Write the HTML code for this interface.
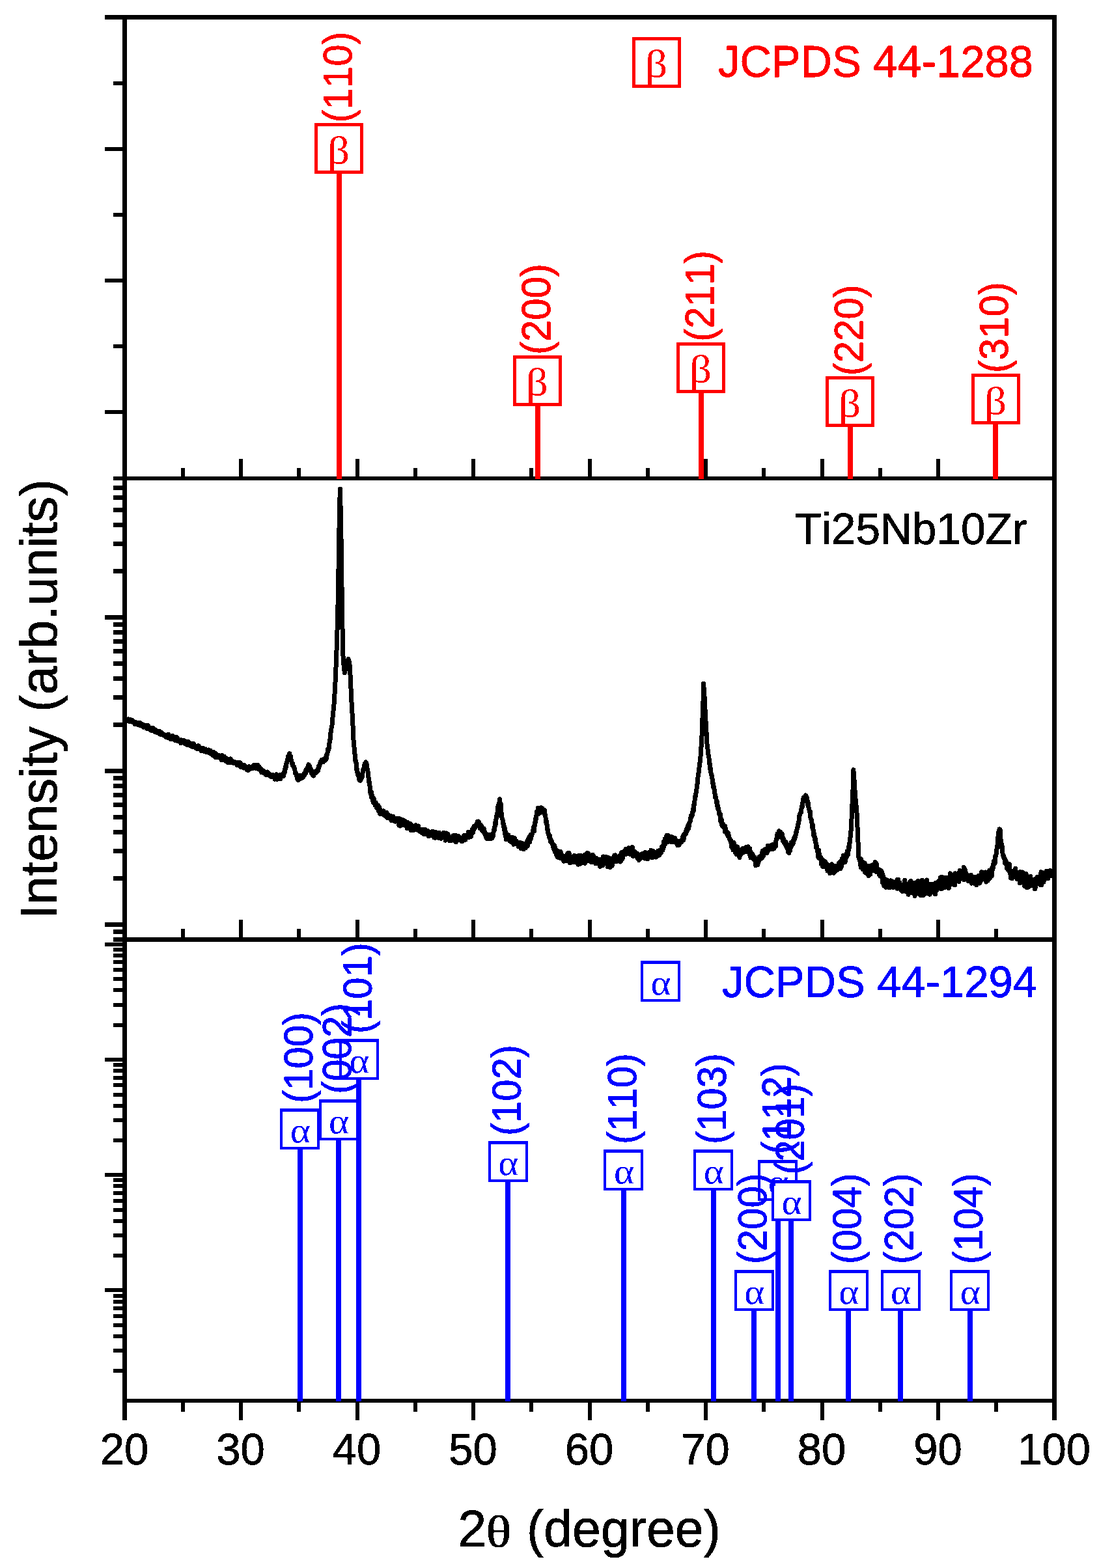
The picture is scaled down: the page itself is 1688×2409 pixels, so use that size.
<!DOCTYPE html>
<html lang="en">
<head>
<meta charset="utf-8">
<title>XRD pattern Ti25Nb10Zr</title>
<style>html,body{margin:0;padding:0;background:#fff}body{width:1688px;height:2409px;overflow:hidden}svg text{font-kerning:none;filter:url(#px)}</style>
</head>
<body>
<svg width="1688" height="2409" viewBox="0 0 1688 2409" style="display:block;font-kerning:none">
<defs><filter id="px" x="-5%" y="-5%" width="110%" height="110%" color-interpolation-filters="sRGB"><feComponentTransfer><feFuncA type="discrete" tableValues="0 1"/></feComponentTransfer></filter></defs>
<rect width="1688" height="2409" fill="#fff"/>
<g id="axes" shape-rendering="crispEdges">
<rect x="161" y="23" width="1462" height="7" fill="#000"/>
<rect x="174" y="732" width="1449" height="6" fill="#000"/>
<rect x="174" y="1440" width="1449" height="7" fill="#000"/>
<rect x="188" y="2149" width="1435" height="6" fill="#000"/>
<rect x="188" y="23" width="7" height="2159" fill="#000"/>
<rect x="1616" y="23" width="7" height="2159" fill="#000"/>
<rect x="174" y="125" width="15" height="6" fill="#000"/>
<rect x="161" y="226" width="28" height="6" fill="#000"/>
<rect x="174" y="327" width="15" height="6" fill="#000"/>
<rect x="161" y="428" width="28" height="6" fill="#000"/>
<rect x="174" y="529" width="15" height="6" fill="#000"/>
<rect x="161" y="630" width="28" height="6" fill="#000"/>
<rect x="161" y="945" width="28" height="7" fill="#000"/>
<rect x="161" y="1181" width="28" height="7" fill="#000"/>
<rect x="161" y="1417" width="28" height="7" fill="#000"/>
<rect x="174" y="874" width="15" height="7" fill="#000"/>
<rect x="174" y="832" width="15" height="7" fill="#000"/>
<rect x="174" y="803" width="15" height="7" fill="#000"/>
<rect x="174" y="780" width="15" height="7" fill="#000"/>
<rect x="174" y="761" width="15" height="7" fill="#000"/>
<rect x="174" y="746" width="15" height="7" fill="#000"/>
<rect x="174" y="1110" width="15" height="7" fill="#000"/>
<rect x="174" y="1068" width="15" height="7" fill="#000"/>
<rect x="174" y="1039" width="15" height="7" fill="#000"/>
<rect x="174" y="1016" width="15" height="7" fill="#000"/>
<rect x="174" y="997" width="15" height="7" fill="#000"/>
<rect x="174" y="982" width="15" height="7" fill="#000"/>
<rect x="174" y="968" width="15" height="7" fill="#000"/>
<rect x="174" y="956" width="15" height="7" fill="#000"/>
<rect x="174" y="1346" width="15" height="7" fill="#000"/>
<rect x="174" y="1304" width="15" height="7" fill="#000"/>
<rect x="174" y="1275" width="15" height="7" fill="#000"/>
<rect x="174" y="1252" width="15" height="7" fill="#000"/>
<rect x="174" y="1233" width="15" height="7" fill="#000"/>
<rect x="174" y="1218" width="15" height="7" fill="#000"/>
<rect x="174" y="1204" width="15" height="7" fill="#000"/>
<rect x="174" y="1192" width="15" height="7" fill="#000"/>
<rect x="174" y="1428" width="15" height="7" fill="#000"/>
<rect x="161" y="1448" width="28" height="6" fill="#000"/>
<rect x="174" y="1572" width="15" height="6" fill="#000"/>
<rect x="174" y="1541" width="15" height="6" fill="#000"/>
<rect x="174" y="1518" width="15" height="6" fill="#000"/>
<rect x="174" y="1501" width="15" height="6" fill="#000"/>
<rect x="174" y="1487" width="15" height="6" fill="#000"/>
<rect x="174" y="1475" width="15" height="6" fill="#000"/>
<rect x="174" y="1465" width="15" height="6" fill="#000"/>
<rect x="174" y="1456" width="15" height="6" fill="#000"/>
<rect x="161" y="1625" width="28" height="6" fill="#000"/>
<rect x="174" y="1749" width="15" height="6" fill="#000"/>
<rect x="174" y="1718" width="15" height="6" fill="#000"/>
<rect x="174" y="1696" width="15" height="6" fill="#000"/>
<rect x="174" y="1679" width="15" height="6" fill="#000"/>
<rect x="174" y="1664" width="15" height="6" fill="#000"/>
<rect x="174" y="1653" width="15" height="6" fill="#000"/>
<rect x="174" y="1642" width="15" height="6" fill="#000"/>
<rect x="174" y="1633" width="15" height="6" fill="#000"/>
<rect x="161" y="1802" width="28" height="6" fill="#000"/>
<rect x="174" y="1926" width="15" height="6" fill="#000"/>
<rect x="174" y="1895" width="15" height="6" fill="#000"/>
<rect x="174" y="1873" width="15" height="6" fill="#000"/>
<rect x="174" y="1856" width="15" height="6" fill="#000"/>
<rect x="174" y="1842" width="15" height="6" fill="#000"/>
<rect x="174" y="1830" width="15" height="6" fill="#000"/>
<rect x="174" y="1819" width="15" height="6" fill="#000"/>
<rect x="174" y="1810" width="15" height="6" fill="#000"/>
<rect x="161" y="1979" width="28" height="6" fill="#000"/>
<rect x="174" y="2103" width="15" height="6" fill="#000"/>
<rect x="174" y="2072" width="15" height="6" fill="#000"/>
<rect x="174" y="2050" width="15" height="6" fill="#000"/>
<rect x="174" y="2033" width="15" height="6" fill="#000"/>
<rect x="174" y="2019" width="15" height="6" fill="#000"/>
<rect x="174" y="2007" width="15" height="6" fill="#000"/>
<rect x="174" y="1997" width="15" height="6" fill="#000"/>
<rect x="174" y="1988" width="15" height="6" fill="#000"/>
<rect x="277.762" y="719" width="6" height="14" fill="#000"/>
<rect x="277.762" y="1427" width="6" height="14" fill="#000"/>
<rect x="277.762" y="2154" width="6" height="14.5" fill="#000"/>
<rect x="367.025" y="705" width="6" height="28" fill="#000"/>
<rect x="367.025" y="1413" width="6" height="28" fill="#000"/>
<rect x="367.025" y="2154" width="6" height="28" fill="#000"/>
<rect x="456.288" y="719" width="6" height="14" fill="#000"/>
<rect x="456.288" y="1427" width="6" height="14" fill="#000"/>
<rect x="456.288" y="2154" width="6" height="14.5" fill="#000"/>
<rect x="545.55" y="705" width="6" height="28" fill="#000"/>
<rect x="545.55" y="1413" width="6" height="28" fill="#000"/>
<rect x="545.55" y="2154" width="6" height="28" fill="#000"/>
<rect x="634.812" y="719" width="6" height="14" fill="#000"/>
<rect x="634.812" y="1427" width="6" height="14" fill="#000"/>
<rect x="634.812" y="2154" width="6" height="14.5" fill="#000"/>
<rect x="724.075" y="705" width="6" height="28" fill="#000"/>
<rect x="724.075" y="1413" width="6" height="28" fill="#000"/>
<rect x="724.075" y="2154" width="6" height="28" fill="#000"/>
<rect x="813.337" y="719" width="6" height="14" fill="#000"/>
<rect x="813.337" y="1427" width="6" height="14" fill="#000"/>
<rect x="813.337" y="2154" width="6" height="14.5" fill="#000"/>
<rect x="902.6" y="705" width="6" height="28" fill="#000"/>
<rect x="902.6" y="1413" width="6" height="28" fill="#000"/>
<rect x="902.6" y="2154" width="6" height="28" fill="#000"/>
<rect x="991.862" y="719" width="6" height="14" fill="#000"/>
<rect x="991.862" y="1427" width="6" height="14" fill="#000"/>
<rect x="991.862" y="2154" width="6" height="14.5" fill="#000"/>
<rect x="1081.12" y="705" width="6" height="28" fill="#000"/>
<rect x="1081.12" y="1413" width="6" height="28" fill="#000"/>
<rect x="1081.12" y="2154" width="6" height="28" fill="#000"/>
<rect x="1170.39" y="719" width="6" height="14" fill="#000"/>
<rect x="1170.39" y="1427" width="6" height="14" fill="#000"/>
<rect x="1170.39" y="2154" width="6" height="14.5" fill="#000"/>
<rect x="1259.65" y="705" width="6" height="28" fill="#000"/>
<rect x="1259.65" y="1413" width="6" height="28" fill="#000"/>
<rect x="1259.65" y="2154" width="6" height="28" fill="#000"/>
<rect x="1348.91" y="719" width="6" height="14" fill="#000"/>
<rect x="1348.91" y="1427" width="6" height="14" fill="#000"/>
<rect x="1348.91" y="2154" width="6" height="14.5" fill="#000"/>
<rect x="1438.17" y="705" width="6" height="28" fill="#000"/>
<rect x="1438.17" y="1413" width="6" height="28" fill="#000"/>
<rect x="1438.17" y="2154" width="6" height="28" fill="#000"/>
<rect x="1527.44" y="719" width="6" height="14" fill="#000"/>
<rect x="1527.44" y="1427" width="6" height="14" fill="#000"/>
<rect x="1527.44" y="2154" width="6" height="14.5" fill="#000"/>
</g>
<g font-family="'Liberation Sans', Arial, Helvetica, sans-serif" font-size="67" fill="#000" stroke="#000" stroke-width="0.8" text-anchor="middle">
<text transform="translate(190.9,2250.4) scale(1,1.02)">20</text>
<text transform="translate(369.4,2250.4) scale(1,1.02)">30</text>
<text transform="translate(547.9,2250.4) scale(1,1.02)">40</text>
<text transform="translate(726.5,2250.4) scale(1,1.02)">50</text>
<text transform="translate(905.0,2250.4) scale(1,1.02)">60</text>
<text transform="translate(1083.5,2250.4) scale(1,1.02)">70</text>
<text transform="translate(1262.1,2250.4) scale(1,1.02)">80</text>
<text transform="translate(1440.6,2250.4) scale(1,1.02)">90</text>
<text transform="translate(1619.1,2250.4) scale(1,1.02)">100</text>
</g>
<text transform="translate(87,1412.3) rotate(-90) scale(1,1.0)" font-family="'Liberation Sans', Arial, Helvetica, sans-serif" font-size="79.5" fill="#000" stroke="#000" stroke-width="0.8">Intensity (arb.units)</text>
<text transform="translate(703.2,2376) scale(1,1.0)" font-family="'Liberation Sans', Arial, Helvetica, sans-serif" font-size="79" fill="#000" stroke="#000" stroke-width="0.8">2</text>
<text transform="translate(746.6,2376) scale(1.2,1)" font-family="'Liberation Serif', 'Times New Roman', serif" font-size="67.6" fill="#000" stroke="#000" stroke-width="1">θ</text>
<text transform="translate(809,2376) scale(1,1.0)" font-family="'Liberation Sans', Arial, Helvetica, sans-serif" font-size="78.8" fill="#000" stroke="#000" stroke-width="0.8">(degree)</text>
<g id="beta">
<rect x="517" y="228" width="8" height="508" fill="#ff0000" shape-rendering="crispEdges"/>
<rect x="822" y="585" width="8" height="151" fill="#ff0000" shape-rendering="crispEdges"/>
<rect x="1073" y="565" width="8" height="171" fill="#ff0000" shape-rendering="crispEdges"/>
<rect x="1302" y="617" width="8" height="119" fill="#ff0000" shape-rendering="crispEdges"/>
<rect x="1525" y="613" width="8" height="123" fill="#ff0000" shape-rendering="crispEdges"/>
<rect x="483" y="189" width="75" height="78" fill="#ff0000" shape-rendering="crispEdges"/><rect x="488" y="194" width="65" height="68" fill="#fff" shape-rendering="crispEdges"/>
<text transform="translate(520.2,250.7) scale(1.14,1)" font-family="'Liberation Serif', 'Times New Roman', serif" font-size="59" fill="#ff0000" text-anchor="middle">β</text>
<rect x="788" y="546" width="75" height="78" fill="#ff0000" shape-rendering="crispEdges"/><rect x="793" y="551" width="65" height="68" fill="#fff" shape-rendering="crispEdges"/>
<text transform="translate(824.8,607.2) scale(1.14,1)" font-family="'Liberation Serif', 'Times New Roman', serif" font-size="59" fill="#ff0000" text-anchor="middle">β</text>
<rect x="1039" y="526" width="75" height="78" fill="#ff0000" shape-rendering="crispEdges"/><rect x="1044" y="531" width="65" height="68" fill="#fff" shape-rendering="crispEdges"/>
<text transform="translate(1076.0,586.9) scale(1.14,1)" font-family="'Liberation Serif', 'Times New Roman', serif" font-size="59" fill="#ff0000" text-anchor="middle">β</text>
<rect x="1268" y="578" width="75" height="78" fill="#ff0000" shape-rendering="crispEdges"/><rect x="1273" y="583" width="65" height="68" fill="#fff" shape-rendering="crispEdges"/>
<text transform="translate(1305.2,639.6) scale(1.14,1)" font-family="'Liberation Serif', 'Times New Roman', serif" font-size="59" fill="#ff0000" text-anchor="middle">β</text>
<rect x="1492" y="574" width="75" height="78" fill="#ff0000" shape-rendering="crispEdges"/><rect x="1497" y="579" width="65" height="68" fill="#fff" shape-rendering="crispEdges"/>
<text transform="translate(1529.0,635.5) scale(1.14,1)" font-family="'Liberation Serif', 'Times New Roman', serif" font-size="59" fill="#ff0000" text-anchor="middle">β</text>
<text transform="translate(540.4,188.5) rotate(-90) scale(1,1.05)" font-family="'Liberation Sans', Arial, Helvetica, sans-serif" font-size="60" fill="#ff0000" stroke="#ff0000" stroke-width="0.8">(110)</text>
<text transform="translate(845.0,545.0) rotate(-90) scale(1,1.05)" font-family="'Liberation Sans', Arial, Helvetica, sans-serif" font-size="60" fill="#ff0000" stroke="#ff0000" stroke-width="0.8">(200)</text>
<text transform="translate(1096.2,524.7) rotate(-90) scale(1,1.05)" font-family="'Liberation Sans', Arial, Helvetica, sans-serif" font-size="60" fill="#ff0000" stroke="#ff0000" stroke-width="0.8">(211)</text>
<text transform="translate(1325.4,577.4) rotate(-90) scale(1,1.05)" font-family="'Liberation Sans', Arial, Helvetica, sans-serif" font-size="60" fill="#ff0000" stroke="#ff0000" stroke-width="0.8">(220)</text>
<text transform="translate(1548.2,573.3) rotate(-90) scale(1,1.05)" font-family="'Liberation Sans', Arial, Helvetica, sans-serif" font-size="60" fill="#ff0000" stroke="#ff0000" stroke-width="0.8">(310)</text>
<rect x="971" y="57" width="75" height="78" fill="#ff0000" shape-rendering="crispEdges"/><rect x="976" y="62" width="65" height="68" fill="#fff" shape-rendering="crispEdges"/>
<text transform="translate(1008.2,118.4) scale(1.14,1)" font-family="'Liberation Serif', 'Times New Roman', serif" font-size="59" fill="#ff0000" text-anchor="middle">β</text>
<text transform="translate(1103,118.2) scale(1,1.02)" font-family="'Liberation Sans', Arial, Helvetica, sans-serif" font-size="67" fill="#ff0000" stroke="#ff0000" stroke-width="0.8" style="white-space:pre">JCPDS 44-1288</text>
</g>
<path d="M195.0,1105.2 L195.4,1106.4 L195.9,1105.5 L196.3,1105.6 L196.8,1104.9 L197.2,1106.1 L197.7,1108.0 L198.2,1107.3 L198.6,1108.3 L199.1,1107.4 L199.5,1107.8 L199.9,1107.6 L200.4,1105.3 L200.8,1108.9 L201.3,1108.6 L201.8,1108.8 L202.2,1106.0 L202.7,1106.1 L203.1,1107.4 L203.6,1108.1 L204.0,1109.4 L204.4,1109.1 L204.9,1110.0 L205.3,1108.6 L205.8,1110.1 L206.2,1110.3 L206.7,1109.1 L207.2,1112.5 L207.6,1111.1 L208.1,1112.1 L208.5,1109.8 L208.9,1109.8 L209.4,1110.5 L209.8,1111.0 L210.3,1112.2 L210.8,1111.9 L211.2,1111.1 L211.7,1110.6 L212.1,1111.3 L212.6,1113.9 L213.0,1111.3 L213.4,1112.9 L213.9,1113.3 L214.3,1110.9 L214.8,1113.1 L215.2,1115.0 L215.7,1110.6 L216.2,1113.1 L216.6,1113.6 L217.1,1112.8 L217.5,1114.8 L217.9,1114.2 L218.4,1112.4 L218.8,1115.8 L219.3,1115.7 L219.8,1116.3 L220.2,1117.1 L220.7,1115.8 L221.1,1115.7 L221.6,1113.9 L222.0,1116.7 L222.4,1115.1 L222.9,1115.5 L223.3,1114.6 L223.8,1115.2 L224.2,1115.9 L224.7,1118.7 L224.8,1114.1 L225.2,1115.0 L225.6,1117.6 L226.1,1119.5 L226.5,1118.4 L226.9,1115.2 L227.4,1114.9 L227.8,1118.7 L228.3,1117.4 L228.8,1117.0 L229.2,1120.1 L229.7,1120.5 L230.1,1119.4 L230.6,1119.7 L231.0,1120.1 L231.4,1122.0 L231.9,1120.8 L232.3,1120.8 L232.8,1121.1 L233.2,1118.3 L233.7,1122.5 L234.2,1122.2 L234.6,1121.8 L235.1,1118.5 L235.5,1120.6 L235.9,1122.8 L236.4,1119.3 L236.8,1121.8 L237.3,1123.7 L237.8,1120.5 L238.2,1124.9 L238.7,1123.6 L239.1,1122.8 L239.6,1123.6 L240.0,1124.3 L240.4,1123.7 L240.9,1125.4 L241.3,1123.0 L241.8,1123.5 L242.2,1125.8 L242.7,1124.6 L243.2,1123.4 L243.6,1126.3 L244.1,1127.2 L244.5,1124.6 L244.9,1123.5 L245.4,1125.5 L245.8,1125.6 L246.3,1125.6 L246.8,1128.3 L247.2,1124.9 L247.7,1128.4 L248.1,1125.0 L248.6,1125.9 L249.0,1128.1 L249.4,1129.0 L249.9,1128.8 L250.3,1128.3 L250.8,1128.2 L251.2,1128.4 L251.7,1129.2 L252.2,1128.3 L252.6,1129.1 L253.1,1129.8 L253.5,1129.1 L253.9,1130.4 L254.4,1130.3 L254.8,1132.6 L255.3,1130.3 L255.8,1129.4 L256.2,1129.7 L256.6,1130.4 L257.1,1132.0 L257.6,1130.3 L258.0,1131.6 L258.4,1133.9 L258.9,1128.2 L259.4,1129.9 L259.6,1132.1 L259.8,1132.4 L260.2,1132.3 L260.7,1131.5 L261.1,1133.2 L261.6,1132.8 L262.1,1131.8 L262.5,1136.0 L262.9,1133.4 L263.4,1132.3 L263.9,1133.1 L264.3,1133.1 L264.8,1133.5 L265.2,1130.5 L265.6,1133.2 L266.1,1135.6 L266.6,1132.5 L267.0,1134.3 L267.4,1136.0 L267.9,1136.0 L268.4,1137.1 L268.8,1132.5 L269.2,1134.7 L269.7,1134.9 L270.1,1136.5 L270.6,1137.3 L271.1,1132.6 L271.5,1137.7 L271.9,1134.0 L272.4,1137.4 L272.9,1134.3 L273.3,1137.0 L273.8,1138.7 L274.2,1136.8 L274.6,1137.5 L275.1,1138.6 L275.6,1137.7 L276.0,1137.6 L276.4,1140.2 L276.9,1139.6 L277.4,1137.7 L277.8,1141.7 L278.2,1136.8 L278.7,1140.1 L279.1,1138.4 L279.6,1139.2 L280.1,1140.2 L280.5,1139.7 L280.9,1140.5 L281.4,1137.3 L281.9,1137.5 L282.3,1140.9 L282.8,1138.7 L283.2,1138.8 L283.6,1138.2 L284.1,1142.6 L284.6,1141.9 L285.0,1143.2 L285.4,1139.7 L285.9,1141.3 L286.4,1139.7 L286.8,1142.8 L287.2,1144.2 L287.7,1140.6 L288.1,1144.5 L288.6,1143.8 L289.1,1142.2 L289.5,1139.6 L289.9,1144.9 L290.4,1142.8 L290.9,1142.2 L291.3,1143.9 L291.8,1144.1 L292.2,1145.9 L292.6,1142.2 L293.1,1145.7 L293.6,1146.4 L294.0,1146.5 L294.4,1144.1 L294.4,1143.3 L294.9,1146.2 L295.4,1145.0 L295.8,1145.2 L296.2,1147.4 L296.7,1145.0 L297.1,1142.2 L297.6,1145.2 L298.1,1143.1 L298.5,1147.4 L298.9,1146.8 L299.4,1145.6 L299.9,1146.7 L300.3,1148.2 L300.8,1147.2 L301.2,1149.4 L301.6,1147.4 L302.1,1149.3 L302.6,1150.2 L303.0,1150.6 L303.4,1147.2 L303.9,1149.8 L304.4,1145.7 L304.8,1147.1 L305.2,1145.9 L305.7,1150.9 L306.1,1147.5 L306.6,1149.6 L307.1,1149.5 L307.5,1149.9 L307.9,1149.2 L308.4,1150.7 L308.9,1153.4 L309.3,1150.8 L309.8,1151.8 L310.2,1152.7 L310.6,1151.0 L311.1,1149.5 L311.6,1150.8 L312.0,1153.6 L312.4,1149.5 L312.9,1151.3 L313.4,1154.1 L313.8,1153.9 L314.2,1152.9 L314.7,1154.3 L315.1,1153.5 L315.6,1151.5 L316.1,1151.1 L316.5,1152.8 L316.9,1155.5 L317.4,1153.3 L317.9,1152.9 L318.3,1153.3 L318.8,1152.3 L319.2,1154.8 L319.6,1153.3 L320.1,1155.9 L320.6,1152.0 L321.0,1156.2 L321.4,1154.9 L321.9,1153.0 L322.4,1157.4 L322.8,1156.0 L323.2,1153.1 L323.7,1155.5 L324.1,1157.5 L324.6,1156.5 L325.1,1158.7 L325.5,1158.8 L325.9,1158.9 L326.4,1158.5 L326.9,1160.4 L327.3,1159.5 L327.8,1159.3 L328.2,1155.4 L328.6,1160.4 L329.1,1161.3 L329.2,1158.7 L329.6,1158.6 L330.0,1162.7 L330.4,1156.9 L330.9,1160.7 L331.4,1163.7 L331.8,1158.8 L332.2,1161.6 L332.7,1163.7 L333.1,1160.6 L333.6,1161.9 L334.1,1162.7 L334.5,1159.9 L334.9,1161.4 L335.4,1162.2 L335.9,1163.3 L336.3,1162.1 L336.8,1162.0 L337.2,1160.8 L337.6,1162.1 L338.1,1164.3 L338.6,1163.2 L339.0,1161.8 L339.4,1162.0 L339.9,1167.2 L340.4,1165.7 L340.8,1165.0 L341.2,1160.5 L341.7,1165.4 L342.1,1165.3 L342.6,1167.5 L343.1,1165.6 L343.5,1165.0 L343.9,1166.1 L344.4,1162.2 L344.9,1167.3 L345.3,1166.4 L345.8,1164.8 L346.2,1168.4 L346.6,1169.4 L347.1,1164.2 L347.6,1165.6 L348.0,1167.4 L348.4,1167.4 L348.9,1166.6 L349.4,1165.9 L349.8,1171.2 L350.2,1169.6 L350.7,1166.0 L351.1,1166.0 L351.6,1171.2 L352.1,1170.2 L352.5,1171.8 L352.9,1170.3 L353.4,1167.7 L353.9,1169.8 L354.3,1165.9 L354.8,1168.4 L355.2,1169.8 L355.6,1170.9 L356.1,1169.0 L356.6,1170.2 L357.0,1171.4 L357.4,1171.4 L357.9,1172.1 L358.4,1171.5 L358.8,1170.8 L359.2,1172.9 L359.7,1171.8 L360.1,1170.5 L360.6,1171.0 L361.1,1172.3 L361.5,1172.3 L361.9,1172.9 L362.4,1172.8 L362.9,1173.3 L363.3,1173.0 L363.8,1171.3 L364.0,1174.2 L364.2,1175.4 L364.6,1174.5 L365.1,1173.6 L365.6,1174.8 L366.0,1172.6 L366.4,1171.1 L366.9,1174.6 L367.4,1173.1 L367.8,1176.1 L368.2,1173.1 L368.7,1171.4 L369.1,1173.5 L369.6,1178.2 L370.1,1175.0 L370.5,1173.4 L370.9,1174.6 L371.4,1177.0 L371.9,1177.1 L372.3,1176.7 L372.8,1179.1 L373.2,1177.9 L373.6,1176.8 L374.1,1178.1 L374.6,1180.0 L375.0,1179.0 L375.4,1179.3 L375.9,1175.8 L376.4,1177.6 L376.8,1179.2 L377.2,1177.6 L377.7,1180.1 L378.1,1179.5 L378.6,1180.2 L379.1,1178.4 L379.5,1182.7 L379.9,1181.2 L380.4,1178.9 L380.9,1179.6 L381.3,1183.4 L381.4,1179.0 L381.8,1181.1 L382.2,1181.3 L382.6,1179.6 L383.1,1177.6 L383.6,1179.9 L384.0,1180.2 L384.4,1181.5 L384.9,1180.9 L385.4,1179.6 L385.8,1181.0 L386.2,1180.5 L386.7,1179.9 L387.1,1179.6 L387.6,1179.1 L388.0,1180.7 L388.1,1177.7 L388.5,1178.3 L388.9,1179.2 L389.4,1176.5 L389.9,1178.2 L390.3,1175.3 L390.8,1177.5 L391.2,1179.5 L391.6,1179.4 L392.1,1178.1 L392.6,1177.7 L393.0,1175.5 L393.4,1181.0 L393.9,1178.6 L394.4,1179.4 L394.5,1176.0 L394.8,1177.5 L395.2,1175.1 L395.7,1180.0 L396.1,1180.8 L396.6,1176.3 L397.1,1180.0 L397.5,1181.6 L397.9,1177.9 L398.4,1178.2 L398.9,1180.0 L399.3,1181.2 L399.8,1180.3 L400.0,1183.1 L400.2,1183.6 L400.6,1184.6 L401.1,1185.1 L401.6,1186.8 L402.0,1186.6 L402.4,1182.6 L402.9,1184.4 L403.4,1183.7 L403.8,1184.0 L404.2,1186.1 L404.7,1186.6 L405.1,1187.8 L405.6,1184.5 L406.1,1185.5 L406.5,1188.0 L406.9,1188.0 L407.4,1188.2 L407.5,1188.7 L407.9,1187.6 L408.3,1190.3 L408.8,1189.9 L409.2,1189.2 L409.6,1188.4 L410.1,1189.4 L410.6,1186.0 L411.0,1188.3 L411.4,1190.3 L411.9,1187.7 L412.4,1190.9 L412.8,1190.9 L413.2,1188.4 L413.7,1190.5 L414.1,1190.6 L414.6,1192.1 L415.1,1192.6 L415.5,1191.6 L415.9,1190.3 L416.4,1191.7 L416.9,1192.0 L417.3,1193.6 L417.8,1192.9 L418.0,1191.2 L418.2,1190.1 L418.6,1191.9 L419.1,1191.4 L419.6,1190.8 L420.0,1192.6 L420.4,1192.0 L420.9,1193.2 L421.4,1194.0 L421.8,1192.4 L422.2,1197.2 L422.7,1192.7 L423.1,1195.4 L423.6,1193.7 L424.1,1195.5 L424.5,1189.7 L424.9,1192.3 L425.0,1194.1 L425.4,1194.7 L425.9,1197.5 L426.3,1194.0 L426.8,1195.7 L427.2,1194.7 L427.6,1194.9 L428.1,1194.0 L428.6,1192.8 L429.0,1193.9 L429.4,1190.9 L429.9,1194.9 L430.4,1190.9 L430.8,1193.1 L431.0,1196.4 L431.2,1192.0 L431.7,1192.1 L432.1,1193.9 L432.6,1191.5 L433.1,1189.7 L433.5,1191.3 L433.9,1191.5 L434.4,1191.4 L434.9,1188.5 L435.3,1192.6 L435.8,1192.1 L436.0,1189.0 L436.2,1188.7 L436.6,1185.8 L437.1,1187.4 L437.6,1182.0 L438.0,1182.7 L438.4,1179.1 L438.9,1177.0 L439.4,1177.8 L439.5,1178.3 L439.8,1174.5 L440.2,1171.3 L440.7,1171.6 L441.1,1168.0 L441.6,1166.4 L442.0,1166.5 L442.1,1165.8 L442.5,1162.1 L442.9,1165.7 L443.4,1161.1 L443.9,1161.5 L444.2,1158.5 L444.3,1159.6 L444.8,1157.7 L445.2,1164.4 L445.6,1164.6 L446.1,1161.2 L446.5,1161.5 L446.6,1161.6 L447.0,1168.1 L447.4,1167.4 L447.9,1170.1 L448.4,1171.6 L448.8,1173.9 L449.0,1173.1 L449.2,1175.4 L449.7,1173.5 L450.1,1176.5 L450.6,1177.8 L451.1,1178.7 L451.5,1178.1 L451.9,1178.6 L452.4,1182.2 L452.9,1182.7 L453.3,1188.0 L453.5,1187.4 L453.8,1186.5 L454.2,1187.1 L454.6,1187.9 L455.1,1188.8 L455.6,1191.0 L456.0,1193.5 L456.1,1194.1 L456.4,1194.4 L456.9,1197.4 L457.4,1192.6 L457.8,1194.1 L458.2,1198.3 L458.7,1191.2 L459.1,1193.8 L459.6,1195.3 L460.0,1195.5 L460.1,1195.9 L460.5,1194.7 L460.9,1195.8 L461.4,1195.2 L461.9,1196.4 L462.3,1191.6 L462.8,1193.3 L463.1,1194.9 L463.2,1192.9 L463.6,1192.5 L464.1,1195.2 L464.6,1192.5 L465.0,1194.4 L465.4,1194.2 L465.9,1193.0 L466.4,1193.0 L466.8,1191.5 L467.0,1189.0 L467.2,1190.8 L467.7,1190.6 L468.1,1187.7 L468.6,1187.3 L469.1,1187.7 L469.5,1183.7 L469.9,1185.2 L470.0,1187.3 L470.4,1182.2 L470.9,1182.6 L471.3,1181.1 L471.8,1183.2 L472.2,1180.1 L472.6,1180.2 L473.1,1176.6 L473.5,1177.0 L473.6,1177.1 L474.0,1174.8 L474.4,1181.0 L474.9,1180.8 L475.4,1176.9 L475.8,1182.0 L476.0,1180.8 L476.2,1182.3 L476.7,1183.1 L477.1,1180.7 L477.6,1183.9 L478.1,1187.8 L478.5,1185.1 L478.7,1184.7 L478.9,1184.2 L479.4,1184.7 L479.9,1187.7 L480.3,1190.4 L480.8,1188.4 L481.2,1188.3 L481.6,1192.0 L482.0,1187.4 L482.1,1187.1 L482.6,1189.1 L483.0,1188.9 L483.4,1186.0 L483.9,1185.6 L484.4,1188.1 L484.8,1187.8 L485.2,1184.9 L485.7,1186.7 L486.1,1185.3 L486.6,1186.3 L487.1,1184.4 L487.5,1183.7 L487.9,1182.4 L488.4,1184.0 L488.5,1184.4 L488.9,1180.2 L489.3,1180.8 L489.8,1176.5 L490.2,1176.5 L490.6,1176.1 L490.9,1176.6 L491.1,1173.1 L491.6,1173.1 L492.0,1173.1 L492.4,1169.7 L492.9,1171.8 L493.4,1170.1 L493.8,1171.3 L494.0,1168.6 L494.2,1167.1 L494.7,1170.2 L495.1,1170.4 L495.6,1168.8 L496.1,1171.0 L496.5,1168.8 L496.9,1168.0 L497.0,1169.8 L497.4,1166.0 L497.9,1167.1 L498.3,1167.7 L498.8,1168.7 L499.2,1166.6 L499.6,1167.0 L499.6,1165.3 L500.1,1165.6 L500.6,1166.7 L501.0,1161.6 L501.4,1165.1 L501.9,1159.2 L502.0,1160.0 L502.4,1159.1 L502.8,1158.9 L503.2,1153.8 L503.7,1150.9 L504.0,1154.2 L504.1,1153.5 L504.6,1150.5 L505.1,1150.2 L505.5,1144.3 L505.9,1141.6 L506.4,1139.8 L506.9,1136.2 L507.3,1135.4 L507.4,1130.5 L507.8,1128.9 L508.2,1122.7 L508.6,1123.4 L509.1,1118.1 L509.6,1116.3 L510.0,1114.3 L510.4,1107.3 L510.9,1102.9 L511.4,1098.6 L511.8,1094.1 L512.2,1090.3 L512.7,1087.8 L513.1,1080.1 L513.6,1073.3 L514.0,1066.1 L514.4,1061.9 L514.5,1059.2 L515.0,1048.8 L515.4,1039.8 L515.6,1034.7 L515.9,1027.6 L516.3,1018.5 L516.8,1006.5 L517.0,999.4 L517.2,994.6 L517.6,980.5 L518.1,965.7 L518.5,955.4 L518.5,952.2 L519.0,930.2 L519.5,907.5 L519.6,899.9 L519.9,880.5 L520.4,853.5 L520.4,850.0 L520.8,824.9 L521.2,800.1 L521.2,797.8 L521.7,778.3 L522.0,764.9 L522.1,758.2 L522.3,751.0 L522.6,759.5 L522.8,765.2 L523.0,776.3 L523.5,795.5 L523.6,800.0 L524.0,825.6 L524.3,849.9 L524.4,857.4 L524.9,890.1 L525.0,900.0 L525.3,921.1 L525.8,950.7 L525.8,954.6 L526.2,977.2 L526.6,1000.1 L526.6,1001.5 L527.1,1009.4 L527.5,1014.4 L528.0,1021.5 L528.5,1026.4 L528.9,1029.1 L529.3,1033.9 L529.4,1033.8 L529.8,1031.1 L530.2,1029.8 L530.7,1026.0 L531.0,1026.6 L531.1,1024.0 L531.6,1022.4 L532.0,1020.3 L532.5,1018.2 L533.0,1016.9 L533.0,1016.1 L533.4,1015.0 L533.9,1015.0 L534.3,1015.0 L534.8,1013.1 L535.2,1012.6 L535.3,1013.1 L535.6,1014.2 L536.1,1015.4 L536.5,1020.4 L536.8,1021.7 L537.0,1021.1 L537.5,1028.7 L537.9,1035.2 L538.4,1044.9 L538.8,1053.9 L539.2,1062.1 L539.6,1068.4 L539.7,1071.6 L540.1,1081.4 L540.6,1087.6 L541.0,1096.3 L541.4,1104.4 L541.5,1103.8 L542.0,1115.3 L542.4,1124.2 L542.9,1134.8 L543.1,1138.1 L543.3,1139.9 L543.8,1145.1 L544.2,1150.2 L544.6,1153.7 L545.1,1159.3 L545.5,1165.0 L545.7,1167.3 L546.0,1170.1 L546.5,1168.9 L546.9,1172.4 L547.4,1172.2 L547.8,1182.2 L548.2,1180.6 L548.7,1184.7 L549.1,1188.6 L549.2,1185.6 L549.6,1190.0 L550.0,1190.5 L550.5,1188.6 L551.0,1193.7 L551.4,1196.7 L551.9,1192.5 L552.3,1198.7 L552.7,1198.8 L552.8,1199.2 L553.2,1198.4 L553.6,1199.3 L554.1,1195.8 L554.5,1197.1 L555.0,1194.0 L555.5,1195.4 L555.5,1192.5 L555.9,1192.0 L556.4,1193.3 L556.8,1189.1 L557.2,1186.0 L557.7,1182.3 L558.0,1181.6 L558.1,1182.7 L558.6,1182.1 L559.0,1179.3 L559.5,1177.5 L560.0,1174.6 L560.0,1176.8 L560.4,1173.2 L560.9,1172.2 L561.3,1173.9 L561.8,1171.8 L561.9,1170.9 L562.2,1171.4 L562.6,1173.3 L563.1,1176.2 L563.5,1177.1 L563.7,1174.9 L564.0,1179.9 L564.5,1182.7 L564.9,1183.9 L565.4,1190.3 L565.7,1190.9 L565.8,1191.5 L566.2,1196.9 L566.7,1201.3 L567.1,1200.9 L567.6,1206.4 L568.0,1207.2 L568.5,1216.6 L569.0,1214.7 L569.2,1219.9 L569.4,1216.7 L569.9,1220.9 L570.3,1224.9 L570.8,1217.2 L571.2,1222.0 L571.6,1225.1 L572.1,1225.1 L572.5,1225.1 L573.0,1232.2 L573.5,1229.1 L573.9,1226.7 L574.4,1233.2 L574.4,1227.8 L574.8,1234.6 L575.2,1231.7 L575.7,1234.1 L576.1,1237.2 L576.6,1235.6 L577.0,1233.1 L577.5,1233.2 L578.0,1240.2 L578.4,1240.0 L578.9,1237.4 L579.3,1241.9 L579.8,1241.8 L580.2,1243.0 L580.6,1237.4 L581.1,1242.4 L581.4,1245.6 L581.5,1245.4 L582.0,1246.0 L582.5,1239.5 L582.9,1245.1 L583.4,1246.2 L583.8,1250.4 L584.2,1243.6 L584.7,1245.3 L585.1,1246.5 L585.6,1248.8 L586.0,1246.1 L586.5,1250.1 L587.0,1246.0 L587.4,1248.7 L587.9,1247.3 L588.3,1249.2 L588.8,1247.6 L589.2,1245.8 L589.6,1252.3 L590.1,1250.9 L590.5,1249.2 L591.0,1251.3 L591.5,1253.5 L591.9,1249.3 L592.4,1251.6 L592.8,1253.5 L593.2,1253.8 L593.7,1252.1 L594.1,1248.3 L594.6,1256.5 L595.0,1254.7 L595.3,1254.1 L595.5,1253.5 L596.0,1255.0 L596.4,1253.7 L596.9,1252.5 L597.3,1253.4 L597.8,1253.9 L598.2,1254.1 L598.6,1253.1 L599.1,1257.5 L599.5,1253.1 L600.0,1258.0 L600.5,1254.3 L600.9,1257.7 L601.4,1260.4 L601.8,1257.8 L602.2,1255.8 L602.7,1257.9 L603.1,1258.4 L603.6,1254.1 L604.0,1257.0 L604.5,1259.1 L605.0,1257.8 L605.4,1259.3 L605.9,1261.1 L606.3,1261.4 L606.8,1262.0 L607.2,1261.5 L607.6,1259.6 L608.1,1260.5 L608.5,1260.1 L609.0,1260.2 L609.5,1260.7 L609.9,1257.3 L610.4,1260.8 L610.8,1261.8 L611.2,1259.7 L611.7,1262.2 L612.1,1263.8 L612.6,1262.4 L612.7,1267.8 L613.0,1257.6 L613.5,1262.6 L614.0,1258.9 L614.4,1265.8 L614.9,1269.0 L615.3,1258.5 L615.8,1264.3 L616.2,1265.5 L616.6,1263.6 L617.1,1265.9 L617.5,1259.4 L618.0,1267.0 L618.5,1266.0 L618.9,1265.3 L619.4,1264.0 L619.8,1267.2 L620.2,1264.6 L620.7,1266.5 L621.1,1264.9 L621.6,1261.0 L622.0,1266.4 L622.5,1267.2 L623.0,1268.7 L623.4,1264.9 L623.9,1267.2 L624.3,1268.9 L624.8,1268.0 L625.2,1270.8 L625.6,1272.9 L626.1,1265.9 L626.5,1263.6 L627.0,1270.6 L627.5,1272.5 L627.9,1271.1 L628.4,1271.0 L628.8,1267.7 L629.2,1267.6 L629.7,1271.8 L630.1,1267.5 L630.6,1265.4 L631.0,1267.6 L631.5,1275.8 L632.0,1275.3 L632.4,1268.9 L632.9,1269.0 L633.3,1271.6 L633.8,1269.3 L634.2,1274.6 L634.6,1271.4 L635.1,1269.0 L635.5,1275.2 L636.0,1270.6 L636.5,1272.8 L636.9,1272.4 L637.4,1271.8 L637.8,1273.6 L638.2,1271.2 L638.7,1268.5 L638.8,1267.7 L639.1,1270.1 L639.6,1271.5 L640.0,1273.5 L640.5,1273.9 L641.0,1275.2 L641.4,1274.3 L641.9,1272.1 L642.3,1272.5 L642.8,1269.0 L643.2,1274.1 L643.6,1275.9 L644.1,1276.1 L644.5,1274.6 L645.0,1274.6 L645.5,1277.6 L645.9,1275.4 L646.4,1277.3 L646.8,1277.1 L647.2,1276.3 L647.7,1279.2 L648.1,1274.6 L648.6,1275.2 L649.0,1274.2 L649.5,1274.4 L650.0,1280.5 L650.4,1281.2 L650.9,1276.9 L651.3,1278.4 L651.8,1280.1 L652.2,1279.3 L652.6,1280.5 L653.1,1274.3 L653.5,1276.0 L654.0,1278.9 L654.5,1281.6 L654.9,1278.3 L655.4,1276.0 L655.8,1277.4 L656.2,1276.8 L656.7,1276.4 L657.1,1282.6 L657.6,1277.3 L658.0,1279.1 L658.5,1284.7 L659.0,1282.3 L659.4,1280.3 L659.9,1278.0 L660.3,1280.7 L660.8,1284.0 L661.2,1281.6 L661.6,1283.3 L662.1,1280.5 L662.5,1281.7 L663.0,1280.0 L663.5,1281.7 L663.9,1284.1 L664.4,1277.2 L664.8,1280.9 L665.2,1281.8 L665.7,1279.8 L666.1,1280.7 L666.6,1283.6 L667.0,1286.9 L667.5,1283.5 L668.0,1282.8 L668.4,1278.1 L668.9,1287.3 L669.3,1282.6 L669.8,1282.5 L670.2,1279.8 L670.6,1282.7 L671.1,1280.1 L671.5,1283.3 L672.0,1284.4 L672.5,1283.4 L672.9,1284.2 L673.4,1281.4 L673.6,1287.4 L673.8,1282.0 L674.2,1279.1 L674.7,1283.4 L675.1,1282.0 L675.6,1281.4 L676.0,1283.2 L676.5,1285.0 L677.0,1281.2 L677.4,1284.0 L677.9,1288.2 L678.3,1286.3 L678.8,1284.2 L679.2,1285.0 L679.6,1284.4 L680.1,1284.7 L680.5,1286.8 L681.0,1284.7 L681.5,1279.3 L681.9,1285.1 L682.4,1282.9 L682.8,1287.0 L683.2,1283.7 L683.7,1285.8 L684.1,1291.2 L684.6,1282.8 L685.0,1282.7 L685.5,1282.0 L686.0,1280.0 L686.4,1280.9 L686.9,1286.9 L687.3,1284.4 L687.8,1281.2 L688.2,1282.3 L688.6,1287.9 L689.1,1284.3 L689.5,1285.5 L690.0,1287.4 L690.5,1290.1 L690.9,1291.8 L691.4,1289.4 L691.8,1287.2 L692.2,1287.4 L692.7,1291.7 L693.1,1290.8 L693.6,1286.3 L694.0,1288.4 L694.5,1288.0 L695.0,1287.5 L695.4,1286.1 L695.9,1284.0 L696.3,1286.2 L696.8,1283.6 L697.2,1291.0 L697.6,1289.2 L698.1,1284.7 L698.5,1291.6 L699.0,1290.4 L699.5,1283.1 L699.9,1293.1 L700.0,1290.3 L700.4,1293.7 L700.8,1285.0 L701.2,1289.7 L701.7,1289.4 L702.1,1288.9 L702.6,1288.8 L703.0,1291.2 L703.5,1284.4 L704.0,1285.1 L704.4,1284.8 L704.9,1287.0 L705.3,1286.9 L705.8,1289.5 L706.2,1289.3 L706.6,1288.7 L707.1,1286.8 L707.5,1287.5 L708.0,1291.2 L708.5,1290.7 L708.9,1289.0 L709.4,1287.9 L709.8,1292.9 L710.2,1287.2 L710.4,1290.5 L710.7,1291.7 L711.1,1287.8 L711.6,1290.5 L712.0,1285.1 L712.5,1290.6 L713.0,1288.2 L713.4,1283.3 L713.9,1289.1 L714.3,1284.8 L714.8,1290.3 L715.2,1285.0 L715.6,1286.1 L716.1,1287.1 L716.5,1285.3 L717.0,1286.7 L717.5,1284.2 L717.9,1287.0 L718.4,1284.9 L718.8,1285.0 L719.2,1278.3 L719.7,1286.7 L720.1,1283.4 L720.6,1278.3 L720.9,1282.9 L721.0,1283.7 L721.5,1284.7 L722.0,1278.6 L722.4,1284.8 L722.9,1279.8 L723.3,1285.3 L723.8,1278.7 L724.2,1280.3 L724.6,1277.0 L725.1,1274.6 L725.5,1279.6 L726.0,1278.6 L726.5,1279.6 L726.9,1277.3 L727.4,1273.1 L727.8,1269.8 L728.2,1271.5 L728.7,1270.6 L729.1,1269.4 L729.6,1272.1 L730.0,1270.6 L730.5,1268.3 L731.0,1268.5 L731.0,1267.6 L731.4,1268.2 L731.9,1269.1 L732.3,1269.1 L732.8,1264.7 L733.2,1262.3 L733.6,1269.0 L733.9,1265.6 L734.1,1268.2 L734.5,1262.0 L735.0,1265.6 L735.5,1267.0 L735.9,1263.8 L736.4,1266.6 L736.8,1270.1 L737.0,1271.2 L737.2,1272.8 L737.7,1267.4 L738.1,1266.7 L738.6,1272.2 L739.0,1273.9 L739.5,1272.7 L740.0,1269.7 L740.4,1275.6 L740.9,1276.3 L741.3,1276.3 L741.8,1274.4 L741.8,1276.5 L742.2,1278.3 L742.6,1275.5 L743.1,1272.8 L743.5,1279.0 L744.0,1280.0 L744.5,1279.4 L744.9,1282.3 L745.4,1279.1 L745.8,1281.0 L746.0,1280.7 L746.2,1283.2 L746.7,1286.2 L747.1,1281.8 L747.6,1288.2 L748.0,1287.2 L748.5,1285.7 L749.0,1285.5 L749.4,1289.0 L749.9,1284.3 L750.3,1284.8 L750.5,1282.5 L750.8,1286.6 L751.2,1289.0 L751.6,1286.9 L752.1,1286.7 L752.5,1285.2 L753.0,1286.2 L753.5,1282.1 L753.9,1288.7 L754.0,1284.9 L754.4,1282.9 L754.8,1283.5 L755.2,1283.1 L755.7,1287.2 L756.1,1287.4 L756.6,1280.8 L757.0,1285.4 L757.5,1283.9 L758.0,1278.7 L758.4,1275.0 L758.9,1275.6 L759.0,1275.4 L759.3,1276.3 L759.8,1272.2 L760.2,1265.6 L760.6,1268.9 L760.9,1263.2 L761.1,1267.9 L761.5,1259.8 L762.0,1258.0 L762.5,1254.7 L762.9,1252.4 L763.0,1256.0 L763.4,1252.9 L763.8,1249.6 L764.2,1246.2 L764.7,1239.3 L765.1,1239.0 L765.3,1238.0 L765.6,1236.1 L766.0,1237.9 L766.5,1233.7 L767.0,1232.3 L767.4,1230.1 L767.5,1227.6 L767.9,1234.7 L768.3,1238.1 L768.8,1237.4 L769.0,1235.9 L769.2,1234.7 L769.6,1243.4 L770.1,1249.3 L770.5,1250.3 L770.5,1252.1 L771.0,1256.5 L771.5,1258.8 L771.9,1258.2 L772.3,1264.5 L772.4,1264.2 L772.8,1261.3 L773.2,1266.7 L773.7,1266.9 L774.0,1271.9 L774.1,1274.2 L774.6,1271.7 L775.0,1270.8 L775.5,1280.9 L776.0,1280.2 L776.4,1284.6 L776.9,1279.0 L777.3,1286.8 L777.4,1289.8 L777.8,1289.9 L778.2,1284.3 L778.6,1285.8 L779.1,1285.0 L779.5,1288.3 L780.0,1288.6 L780.5,1286.4 L780.9,1282.8 L781.4,1288.6 L781.8,1285.7 L782.2,1288.8 L782.7,1288.1 L783.1,1292.0 L783.5,1290.9 L783.6,1286.8 L784.0,1289.2 L784.5,1293.2 L785.0,1287.4 L785.4,1290.2 L785.9,1292.5 L786.3,1293.0 L786.8,1291.3 L787.2,1286.7 L787.6,1287.1 L788.1,1291.5 L788.5,1292.1 L789.0,1297.3 L789.5,1289.3 L789.9,1295.0 L790.4,1294.3 L790.5,1287.7 L790.8,1290.3 L791.2,1293.3 L791.7,1291.8 L792.1,1293.0 L792.6,1295.1 L793.0,1291.8 L793.5,1295.7 L794.0,1292.9 L794.4,1293.5 L794.9,1296.8 L795.3,1294.0 L795.8,1296.7 L796.2,1300.8 L796.6,1296.6 L797.1,1296.4 L797.5,1299.3 L798.0,1296.4 L798.5,1300.9 L798.9,1294.4 L799.2,1300.1 L799.4,1296.8 L799.8,1296.0 L800.2,1303.5 L800.7,1295.9 L801.1,1303.5 L801.6,1300.4 L802.0,1302.7 L802.5,1295.7 L803.0,1302.0 L803.4,1302.8 L803.5,1298.3 L803.9,1298.1 L804.3,1304.8 L804.8,1298.8 L805.2,1297.0 L805.6,1296.2 L806.1,1299.2 L806.5,1298.8 L807.0,1298.2 L807.5,1302.6 L807.9,1296.6 L808.4,1298.4 L808.8,1300.7 L809.2,1293.2 L809.7,1298.4 L810.1,1300.1 L810.6,1290.7 L811.0,1291.0 L811.5,1290.6 L812.0,1287.7 L812.4,1293.3 L812.9,1286.3 L813.3,1291.9 L813.8,1293.7 L814.2,1284.8 L814.6,1287.5 L814.9,1282.8 L815.1,1289.4 L815.5,1284.2 L816.0,1284.3 L816.5,1283.9 L816.9,1284.0 L817.4,1280.5 L817.8,1280.2 L818.2,1277.5 L818.7,1278.0 L819.1,1273.6 L819.6,1275.5 L820.0,1269.3 L820.1,1272.8 L820.5,1276.8 L821.0,1269.9 L821.4,1264.4 L821.9,1265.9 L822.3,1260.7 L822.5,1258.0 L822.8,1258.7 L823.2,1259.3 L823.6,1255.6 L824.1,1251.7 L824.4,1247.9 L824.5,1247.2 L825.0,1251.9 L825.5,1248.6 L825.9,1245.0 L826.4,1241.5 L826.5,1242.9 L826.8,1250.8 L827.2,1243.1 L827.7,1245.3 L828.1,1245.8 L828.6,1244.7 L828.8,1244.4 L829.0,1241.9 L829.5,1242.6 L830.0,1248.7 L830.4,1243.1 L830.9,1246.7 L831.3,1240.9 L831.8,1244.0 L832.2,1245.2 L832.6,1246.9 L833.1,1242.0 L833.5,1246.5 L834.0,1246.6 L834.5,1244.7 L834.9,1248.1 L835.4,1245.6 L835.8,1246.4 L836.0,1248.5 L836.2,1244.5 L836.7,1251.2 L837.1,1251.1 L837.6,1251.9 L838.0,1256.0 L838.0,1259.1 L838.5,1258.7 L839.0,1265.2 L839.4,1261.7 L839.9,1263.8 L840.3,1273.2 L840.8,1272.8 L841.2,1276.6 L841.6,1274.6 L841.8,1279.6 L842.1,1279.2 L842.5,1281.8 L843.0,1281.8 L843.5,1286.5 L843.9,1283.2 L844.4,1284.0 L844.8,1284.2 L845.2,1292.8 L845.7,1289.3 L846.1,1290.1 L846.2,1290.5 L846.6,1292.8 L847.0,1291.5 L847.5,1295.3 L848.0,1295.4 L848.4,1296.7 L848.9,1296.5 L849.3,1300.5 L849.8,1300.1 L850.2,1302.8 L850.6,1304.3 L851.1,1305.6 L851.4,1298.5 L851.5,1303.9 L852.0,1303.7 L852.5,1309.3 L852.9,1302.6 L853.4,1306.0 L853.8,1308.0 L854.2,1308.5 L854.7,1313.5 L855.1,1309.5 L855.6,1314.8 L856.0,1307.5 L856.5,1307.0 L856.6,1317.1 L857.0,1314.7 L857.4,1315.0 L857.9,1314.0 L858.3,1315.4 L858.8,1309.9 L859.2,1317.3 L859.6,1312.5 L860.1,1317.8 L860.5,1315.0 L861.0,1308.2 L861.5,1310.7 L861.9,1319.0 L862.4,1315.0 L862.8,1314.3 L863.2,1316.6 L863.7,1314.5 L864.1,1314.3 L864.6,1316.7 L865.0,1317.0 L865.3,1321.8 L865.5,1316.8 L866.0,1323.1 L866.4,1322.9 L866.9,1322.7 L867.3,1320.5 L867.8,1317.4 L868.2,1317.5 L868.6,1316.6 L869.1,1314.7 L869.5,1317.0 L870.0,1315.1 L870.5,1323.0 L870.9,1319.3 L871.4,1316.0 L871.8,1311.0 L872.2,1317.5 L872.7,1316.3 L873.1,1314.0 L873.6,1313.9 L874.0,1310.3 L874.5,1319.9 L875.0,1317.8 L875.4,1325.7 L875.9,1318.1 L876.3,1317.7 L876.8,1323.3 L877.2,1318.8 L877.6,1319.0 L878.1,1317.2 L878.5,1316.5 L879.0,1323.8 L879.5,1322.2 L879.9,1324.7 L880.4,1317.6 L880.8,1319.0 L881.2,1315.9 L881.7,1322.4 L882.1,1314.3 L882.6,1321.1 L882.7,1323.0 L883.0,1324.2 L883.5,1316.1 L884.0,1323.3 L884.4,1317.1 L884.9,1317.0 L885.3,1315.1 L885.8,1323.9 L886.2,1325.7 L886.6,1318.0 L887.1,1317.5 L887.5,1319.0 L888.0,1328.1 L888.5,1324.0 L888.9,1318.6 L889.4,1314.3 L889.8,1318.3 L890.2,1325.0 L890.7,1327.5 L891.1,1320.1 L891.6,1318.6 L892.0,1319.4 L892.5,1314.6 L893.0,1324.6 L893.4,1317.6 L893.9,1325.4 L894.3,1315.6 L894.8,1317.2 L894.9,1322.8 L895.2,1318.9 L895.6,1324.2 L896.1,1321.2 L896.5,1316.7 L897.0,1322.8 L897.5,1323.4 L897.9,1313.4 L898.4,1326.3 L898.8,1321.4 L899.2,1322.1 L899.7,1312.7 L900.0,1316.5 L900.1,1317.7 L900.6,1322.3 L901.0,1313.3 L901.5,1315.0 L902.0,1310.7 L902.4,1316.6 L902.9,1318.3 L903.3,1311.0 L903.6,1314.6 L903.8,1318.4 L904.2,1322.3 L904.6,1319.3 L905.1,1316.2 L905.5,1313.4 L906.0,1314.5 L906.5,1315.6 L906.9,1318.6 L907.4,1318.1 L907.8,1324.3 L908.2,1319.7 L908.7,1315.2 L909.1,1324.5 L909.6,1322.6 L910.0,1319.9 L910.0,1317.0 L910.5,1313.2 L911.0,1316.3 L911.4,1323.3 L911.9,1317.5 L912.3,1315.8 L912.8,1321.4 L913.2,1321.7 L913.6,1323.2 L914.1,1323.6 L914.5,1326.5 L915.0,1318.6 L915.5,1325.3 L915.9,1318.5 L916.4,1324.7 L916.8,1323.0 L917.2,1323.5 L917.5,1326.2 L917.7,1322.7 L918.1,1326.8 L918.6,1326.0 L919.0,1323.4 L919.5,1320.9 L920.0,1320.3 L920.4,1321.2 L920.9,1322.5 L921.3,1323.2 L921.8,1331.3 L922.2,1325.7 L922.6,1326.3 L923.1,1320.4 L923.5,1321.0 L924.0,1322.5 L924.5,1324.4 L924.9,1320.0 L925.4,1329.8 L925.8,1321.9 L926.2,1328.0 L926.7,1316.0 L927.1,1324.1 L927.6,1325.2 L928.0,1325.0 L928.5,1326.6 L929.0,1325.4 L929.4,1325.1 L929.9,1317.6 L930.3,1322.0 L930.8,1316.5 L931.2,1327.1 L931.6,1326.0 L932.1,1324.2 L932.5,1321.9 L933.0,1322.9 L933.5,1331.9 L933.9,1331.6 L934.4,1325.0 L934.8,1330.1 L934.9,1319.4 L935.2,1318.0 L935.7,1323.2 L936.1,1321.6 L936.6,1322.6 L937.0,1325.2 L937.5,1332.5 L938.0,1321.8 L938.4,1324.2 L938.9,1324.9 L939.3,1323.6 L939.8,1327.0 L940.2,1329.9 L940.6,1318.7 L941.1,1323.7 L941.5,1322.0 L942.0,1324.1 L942.5,1317.1 L942.9,1316.1 L943.4,1314.4 L943.8,1324.1 L944.2,1322.7 L944.7,1322.1 L945.1,1313.8 L945.6,1320.2 L946.0,1318.7 L946.5,1316.2 L947.0,1317.8 L947.1,1323.5 L947.4,1322.7 L947.9,1320.3 L948.3,1321.8 L948.8,1317.5 L949.2,1319.5 L949.6,1319.0 L950.1,1320.4 L950.5,1317.9 L951.0,1317.3 L951.5,1316.9 L951.9,1314.8 L952.4,1324.1 L952.8,1318.0 L953.2,1317.4 L953.7,1323.0 L954.1,1319.9 L954.6,1309.6 L955.0,1316.7 L955.5,1316.8 L956.0,1319.9 L956.4,1317.7 L956.9,1315.5 L957.3,1308.7 L957.6,1309.4 L957.8,1313.0 L958.2,1313.3 L958.6,1307.8 L959.1,1309.4 L959.5,1308.9 L960.0,1309.9 L960.5,1310.3 L960.9,1307.8 L961.4,1304.3 L961.8,1311.6 L962.0,1312.5 L962.2,1307.0 L962.7,1310.4 L963.1,1308.3 L963.6,1308.7 L964.0,1308.0 L964.5,1303.8 L965.0,1307.8 L965.4,1308.9 L965.9,1302.8 L966.3,1311.4 L966.8,1312.0 L967.2,1311.4 L967.6,1312.2 L968.1,1308.5 L968.5,1305.4 L969.0,1304.8 L969.5,1304.3 L969.9,1307.5 L970.4,1307.3 L970.8,1309.7 L971.2,1301.4 L971.7,1315.0 L972.1,1315.3 L972.6,1308.4 L973.0,1310.9 L973.2,1310.3 L973.5,1310.0 L974.0,1309.0 L974.4,1309.8 L974.9,1308.0 L975.3,1311.8 L975.8,1311.6 L976.2,1313.2 L976.6,1309.9 L977.1,1313.3 L977.5,1313.9 L978.0,1316.3 L978.5,1311.2 L978.9,1316.7 L979.4,1319.1 L979.8,1318.3 L980.0,1315.2 L980.2,1314.8 L980.7,1315.6 L981.1,1318.9 L981.6,1321.6 L982.0,1315.7 L982.5,1314.1 L983.0,1317.5 L983.4,1316.8 L983.9,1313.0 L984.3,1313.5 L984.8,1315.7 L985.2,1318.2 L985.6,1311.9 L986.1,1312.4 L986.5,1317.5 L987.0,1311.6 L987.5,1316.1 L987.9,1316.9 L988.4,1315.2 L988.8,1312.1 L989.2,1315.3 L989.7,1314.4 L990.1,1316.6 L990.4,1312.6 L990.6,1319.0 L991.0,1309.5 L991.5,1314.4 L992.0,1314.9 L992.4,1318.0 L992.9,1312.5 L993.3,1316.3 L993.8,1312.4 L994.2,1316.6 L994.6,1319.8 L995.1,1312.5 L995.5,1315.2 L996.0,1310.5 L996.5,1316.6 L996.9,1317.2 L997.4,1313.2 L997.8,1309.2 L998.2,1314.1 L998.7,1316.4 L999.1,1316.1 L999.6,1315.0 L1000.0,1306.2 L1000.5,1309.8 L1000.9,1316.6 L1001.0,1307.9 L1001.4,1315.5 L1001.9,1317.9 L1002.3,1314.2 L1002.8,1315.3 L1003.2,1310.5 L1003.6,1307.6 L1004.1,1311.2 L1004.5,1310.8 L1005.0,1311.2 L1005.5,1313.6 L1005.9,1310.8 L1006.4,1311.9 L1006.8,1312.6 L1007.2,1311.1 L1007.7,1317.1 L1008.1,1312.5 L1008.6,1311.2 L1009.0,1310.2 L1009.5,1308.8 L1010.0,1315.2 L1010.4,1311.2 L1010.9,1307.2 L1011.3,1308.8 L1011.8,1310.1 L1012.2,1309.1 L1012.6,1314.0 L1013.1,1306.7 L1013.5,1311.9 L1014.0,1310.8 L1014.5,1306.4 L1014.8,1310.4 L1014.9,1309.7 L1015.4,1310.6 L1015.8,1306.5 L1016.2,1307.9 L1016.7,1300.7 L1017.1,1301.6 L1017.6,1306.3 L1018.0,1306.2 L1018.0,1302.8 L1018.5,1299.7 L1019.0,1303.4 L1019.4,1292.8 L1019.9,1295.3 L1020.3,1298.2 L1020.8,1296.8 L1020.9,1291.6 L1021.2,1288.8 L1021.6,1297.4 L1022.1,1293.2 L1022.5,1289.6 L1023.0,1291.6 L1023.5,1293.2 L1023.9,1284.2 L1024.3,1292.4 L1024.8,1290.8 L1025.0,1283.0 L1025.2,1290.4 L1025.7,1283.4 L1026.2,1291.0 L1026.6,1288.8 L1027.0,1293.3 L1027.5,1285.7 L1028.0,1287.1 L1028.4,1289.6 L1028.7,1285.0 L1028.8,1285.0 L1029.3,1286.2 L1029.8,1287.4 L1030.2,1285.1 L1030.7,1289.6 L1031.1,1290.2 L1031.5,1289.3 L1032.0,1294.0 L1032.5,1289.1 L1032.9,1294.0 L1033.3,1289.6 L1033.8,1293.6 L1034.2,1286.8 L1034.7,1293.1 L1035.2,1292.6 L1035.6,1292.2 L1035.7,1292.0 L1036.0,1292.8 L1036.5,1291.9 L1037.0,1287.9 L1037.4,1292.5 L1037.8,1292.7 L1038.3,1292.9 L1038.8,1291.5 L1039.2,1294.2 L1039.7,1296.9 L1040.1,1294.1 L1040.5,1293.5 L1041.0,1298.8 L1041.5,1297.8 L1041.9,1297.8 L1042.3,1298.6 L1042.7,1294.5 L1042.8,1294.9 L1043.2,1297.9 L1043.7,1292.7 L1044.2,1293.4 L1044.6,1294.3 L1045.0,1293.8 L1045.5,1291.5 L1046.0,1294.4 L1046.4,1290.7 L1046.8,1292.7 L1047.3,1293.1 L1047.8,1291.4 L1048.2,1291.1 L1048.7,1285.6 L1049.1,1284.7 L1049.5,1286.0 L1049.6,1288.9 L1050.0,1290.6 L1050.5,1282.4 L1050.9,1285.4 L1051.3,1281.4 L1051.8,1280.6 L1052.2,1280.8 L1052.7,1282.3 L1053.2,1280.0 L1053.6,1281.4 L1054.0,1274.9 L1054.5,1278.6 L1055.0,1277.7 L1055.4,1274.5 L1055.7,1274.8 L1055.8,1271.7 L1056.3,1269.1 L1056.8,1269.4 L1057.2,1267.5 L1057.7,1273.2 L1058.1,1265.2 L1058.5,1269.1 L1059.0,1264.2 L1059.5,1263.1 L1059.9,1262.8 L1060.3,1257.8 L1060.8,1260.5 L1060.9,1258.9 L1061.2,1253.2 L1061.7,1256.6 L1062.2,1254.8 L1062.6,1253.0 L1063.0,1254.0 L1063.5,1247.8 L1064.0,1248.3 L1064.4,1247.2 L1064.8,1241.9 L1065.3,1245.0 L1065.8,1236.4 L1066.2,1234.1 L1066.7,1235.4 L1067.1,1229.2 L1067.5,1228.6 L1068.0,1222.8 L1068.5,1223.6 L1068.8,1219.1 L1068.9,1221.3 L1069.3,1214.1 L1069.8,1214.6 L1070.2,1209.8 L1070.7,1206.9 L1071.2,1203.2 L1071.6,1200.1 L1072.0,1194.1 L1072.2,1191.3 L1072.5,1192.9 L1073.0,1187.5 L1073.4,1184.7 L1073.8,1182.6 L1074.3,1174.8 L1074.8,1173.2 L1075.2,1169.8 L1075.4,1167.4 L1075.7,1166.6 L1076.1,1160.3 L1076.5,1153.6 L1077.0,1147.8 L1077.5,1145.0 L1077.5,1142.1 L1077.9,1134.0 L1078.3,1122.6 L1078.8,1108.2 L1078.9,1106.8 L1079.2,1098.2 L1079.7,1085.5 L1080.1,1074.4 L1080.2,1072.0 L1080.6,1050.1 L1081.0,1056.0 L1081.4,1061.8 L1081.5,1064.4 L1082.0,1070.1 L1082.4,1078.8 L1082.7,1080.3 L1082.8,1086.1 L1083.3,1094.3 L1083.8,1101.1 L1084.2,1114.3 L1084.4,1117.4 L1084.7,1120.8 L1085.1,1125.9 L1085.5,1133.4 L1086.0,1143.1 L1086.5,1146.3 L1086.5,1144.9 L1086.9,1149.9 L1087.3,1152.7 L1087.8,1157.7 L1088.2,1160.6 L1088.7,1163.1 L1089.2,1166.5 L1089.6,1173.0 L1090.0,1172.1 L1090.5,1181.3 L1091.0,1179.5 L1091.4,1181.1 L1091.8,1187.0 L1092.3,1189.1 L1092.8,1188.8 L1093.2,1194.6 L1093.7,1192.5 L1094.1,1196.7 L1094.5,1203.0 L1095.0,1203.0 L1095.5,1203.6 L1095.7,1208.5 L1095.9,1210.2 L1096.3,1210.6 L1096.8,1209.3 L1097.2,1214.3 L1097.7,1218.0 L1098.2,1220.9 L1098.6,1225.3 L1099.0,1223.2 L1099.5,1224.9 L1100.0,1228.0 L1100.4,1232.9 L1100.8,1230.5 L1101.3,1237.5 L1101.8,1232.1 L1101.8,1238.8 L1102.2,1237.2 L1102.7,1241.5 L1103.1,1243.8 L1103.5,1241.4 L1104.0,1245.7 L1104.5,1248.2 L1104.9,1250.8 L1105.3,1249.1 L1105.8,1250.7 L1106.2,1250.3 L1106.7,1261.8 L1107.2,1258.0 L1107.6,1259.7 L1108.0,1258.4 L1108.5,1266.1 L1108.8,1263.7 L1109.0,1268.8 L1109.4,1268.3 L1109.8,1267.2 L1110.3,1269.8 L1110.8,1266.2 L1111.2,1269.0 L1111.7,1269.3 L1112.1,1268.4 L1112.5,1272.5 L1113.0,1273.0 L1113.5,1277.9 L1113.9,1269.6 L1114.3,1274.4 L1114.8,1274.7 L1115.2,1276.7 L1115.7,1279.9 L1116.2,1280.7 L1116.6,1280.7 L1117.0,1280.3 L1117.5,1283.7 L1118.0,1284.3 L1118.4,1279.6 L1118.8,1284.7 L1119.3,1282.8 L1119.8,1284.3 L1120.2,1288.8 L1120.7,1289.6 L1121.1,1290.7 L1121.5,1289.1 L1122.0,1291.9 L1122.5,1290.9 L1122.9,1295.5 L1123.3,1297.4 L1123.8,1301.4 L1124.2,1301.1 L1124.5,1295.7 L1124.7,1296.9 L1125.2,1296.1 L1125.6,1300.3 L1126.0,1305.8 L1126.5,1302.6 L1127.0,1294.5 L1127.4,1297.9 L1127.8,1298.3 L1128.3,1304.3 L1128.8,1303.4 L1129.2,1304.8 L1129.7,1310.0 L1130.1,1302.5 L1130.5,1303.0 L1131.0,1312.3 L1131.4,1307.8 L1131.5,1304.3 L1131.9,1300.8 L1132.3,1302.8 L1132.8,1301.1 L1133.2,1308.8 L1133.7,1309.1 L1134.2,1312.6 L1134.6,1309.5 L1135.0,1308.1 L1135.5,1308.4 L1136.0,1317.4 L1136.4,1305.9 L1136.6,1312.5 L1136.8,1311.6 L1137.3,1313.0 L1137.8,1309.1 L1138.2,1311.4 L1138.7,1311.8 L1139.1,1308.1 L1139.5,1306.5 L1140.0,1306.8 L1140.5,1303.7 L1140.9,1305.5 L1141.0,1305.1 L1141.3,1306.4 L1141.8,1309.5 L1142.2,1309.0 L1142.7,1303.3 L1143.2,1306.1 L1143.6,1304.8 L1144.0,1305.9 L1144.5,1303.3 L1145.0,1304.3 L1145.4,1302.4 L1145.8,1301.8 L1146.3,1307.2 L1146.8,1308.8 L1147.2,1307.2 L1147.7,1306.9 L1148.1,1306.7 L1148.5,1304.8 L1149.0,1300.9 L1149.5,1309.1 L1149.9,1308.1 L1150.3,1306.2 L1150.8,1305.4 L1151.2,1313.0 L1151.7,1303.6 L1152.2,1315.6 L1152.6,1312.5 L1153.0,1318.0 L1153.5,1309.0 L1154.0,1311.8 L1154.0,1310.2 L1154.4,1313.1 L1154.8,1312.7 L1155.3,1311.7 L1155.8,1318.6 L1156.2,1313.1 L1156.7,1314.9 L1157.1,1319.3 L1157.5,1316.3 L1158.0,1317.5 L1158.5,1321.0 L1158.9,1319.2 L1159.3,1316.8 L1159.8,1321.6 L1160.2,1322.0 L1160.7,1329.7 L1161.2,1320.2 L1161.6,1328.6 L1161.9,1322.6 L1162.0,1323.9 L1162.5,1323.3 L1163.0,1324.8 L1163.4,1326.3 L1163.8,1328.7 L1164.3,1319.4 L1164.8,1325.7 L1165.2,1323.8 L1165.7,1322.4 L1166.0,1316.4 L1166.1,1322.0 L1166.5,1317.9 L1167.0,1318.9 L1167.5,1316.2 L1167.9,1318.8 L1168.3,1319.7 L1168.8,1319.1 L1169.2,1314.0 L1169.7,1317.5 L1170.2,1318.4 L1170.6,1309.9 L1171.0,1317.2 L1171.4,1307.5 L1171.5,1313.6 L1172.0,1313.3 L1172.4,1315.7 L1172.8,1311.4 L1173.3,1308.5 L1173.8,1307.0 L1174.2,1305.1 L1174.7,1311.1 L1175.1,1307.4 L1175.5,1305.5 L1176.0,1309.0 L1176.5,1304.5 L1176.9,1305.0 L1177.3,1304.5 L1177.8,1310.6 L1178.2,1309.6 L1178.7,1304.1 L1179.2,1299.3 L1179.6,1304.5 L1180.0,1303.5 L1180.1,1304.3 L1180.5,1304.8 L1181.0,1302.1 L1181.4,1305.7 L1181.8,1305.4 L1182.3,1303.4 L1182.8,1301.5 L1183.2,1301.1 L1183.7,1304.6 L1184.1,1299.1 L1184.5,1301.9 L1185.0,1300.0 L1185.5,1298.0 L1185.9,1303.9 L1186.3,1301.9 L1186.8,1302.0 L1187.2,1304.4 L1187.7,1297.2 L1188.2,1301.4 L1188.6,1302.4 L1188.8,1304.0 L1189.0,1297.6 L1189.5,1301.7 L1190.0,1298.9 L1190.4,1300.9 L1190.8,1299.0 L1191.3,1296.1 L1191.5,1300.0 L1191.8,1293.2 L1192.2,1290.6 L1192.7,1289.5 L1193.1,1286.5 L1193.5,1287.5 L1194.0,1281.2 L1194.1,1285.6 L1194.5,1286.2 L1194.9,1286.8 L1195.3,1282.5 L1195.8,1286.1 L1196.2,1279.9 L1196.3,1281.2 L1196.7,1276.5 L1197.2,1279.2 L1197.6,1278.9 L1198.0,1284.5 L1198.4,1281.9 L1198.5,1278.0 L1199.0,1282.9 L1199.4,1283.5 L1199.8,1282.5 L1200.3,1283.9 L1200.8,1283.8 L1201.0,1283.6 L1201.2,1280.9 L1201.7,1286.2 L1202.1,1290.8 L1202.5,1292.2 L1203.0,1288.7 L1203.5,1288.5 L1203.9,1290.9 L1204.3,1294.9 L1204.5,1293.7 L1204.8,1291.8 L1205.2,1295.1 L1205.7,1294.4 L1206.2,1297.2 L1206.6,1295.4 L1207.0,1293.3 L1207.5,1298.4 L1208.0,1301.2 L1208.4,1296.6 L1208.5,1299.7 L1208.8,1303.1 L1209.3,1300.2 L1209.8,1300.1 L1210.2,1308.7 L1210.7,1305.9 L1211.1,1307.2 L1211.5,1302.0 L1212.0,1310.5 L1212.3,1301.0 L1212.5,1304.1 L1212.9,1306.9 L1213.3,1307.7 L1213.8,1300.0 L1214.2,1299.8 L1214.7,1301.4 L1215.2,1294.3 L1215.6,1300.7 L1216.0,1299.6 L1216.0,1296.6 L1216.5,1298.3 L1217.0,1297.8 L1217.4,1295.4 L1217.8,1294.8 L1218.3,1296.3 L1218.8,1289.9 L1219.2,1290.5 L1219.7,1287.6 L1220.1,1290.5 L1220.2,1286.6 L1220.5,1287.5 L1221.0,1285.0 L1221.5,1283.2 L1221.9,1285.6 L1222.3,1279.4 L1222.8,1281.5 L1223.2,1278.4 L1223.7,1277.9 L1224.2,1272.6 L1224.6,1273.6 L1225.0,1271.5 L1225.4,1266.9 L1225.5,1268.6 L1226.0,1265.5 L1226.4,1263.6 L1226.8,1264.6 L1227.3,1257.9 L1227.8,1253.6 L1228.2,1251.4 L1228.7,1252.2 L1229.1,1249.7 L1229.5,1249.0 L1230.0,1248.1 L1230.5,1248.6 L1230.6,1244.8 L1230.9,1243.8 L1231.3,1239.2 L1231.8,1240.0 L1232.2,1239.6 L1232.7,1237.5 L1233.2,1228.7 L1233.6,1232.5 L1234.0,1231.9 L1234.1,1230.2 L1234.5,1225.0 L1235.0,1226.9 L1235.4,1228.2 L1235.8,1227.3 L1236.3,1224.4 L1236.8,1223.7 L1237.2,1226.9 L1237.6,1221.9 L1237.7,1227.4 L1238.1,1225.6 L1238.5,1227.0 L1239.0,1224.7 L1239.5,1227.1 L1239.8,1230.4 L1239.9,1226.5 L1240.3,1235.8 L1240.8,1230.8 L1241.2,1233.2 L1241.7,1238.0 L1241.9,1239.8 L1242.2,1241.6 L1242.6,1241.6 L1243.0,1244.3 L1243.5,1246.5 L1244.0,1248.1 L1244.4,1246.6 L1244.8,1256.2 L1245.3,1256.9 L1245.8,1259.0 L1246.2,1259.5 L1246.3,1262.1 L1246.7,1263.3 L1247.1,1265.6 L1247.5,1270.8 L1248.0,1266.4 L1248.5,1273.6 L1248.9,1272.8 L1249.3,1277.0 L1249.8,1283.8 L1250.2,1279.8 L1250.6,1284.1 L1250.7,1283.4 L1251.2,1289.3 L1251.6,1286.5 L1252.0,1286.7 L1252.5,1294.4 L1253.0,1294.2 L1253.4,1296.3 L1253.8,1302.3 L1254.3,1298.8 L1254.8,1302.3 L1255.0,1304.9 L1255.2,1306.3 L1255.7,1304.9 L1256.1,1310.9 L1256.5,1316.0 L1257.0,1309.1 L1257.5,1317.6 L1257.9,1306.4 L1258.3,1318.9 L1258.8,1314.6 L1259.2,1317.5 L1259.7,1317.2 L1260.2,1317.6 L1260.6,1316.7 L1261.0,1321.0 L1261.2,1327.3 L1261.5,1327.0 L1262.0,1322.2 L1262.4,1321.9 L1262.8,1321.7 L1263.3,1320.2 L1263.8,1331.3 L1264.2,1327.6 L1264.7,1326.0 L1265.1,1324.2 L1265.5,1322.6 L1266.0,1331.5 L1266.5,1329.9 L1266.9,1323.9 L1267.3,1331.4 L1267.4,1323.7 L1267.8,1330.6 L1268.2,1325.2 L1268.7,1327.8 L1269.2,1331.7 L1269.6,1332.0 L1270.0,1334.7 L1270.5,1328.2 L1271.0,1338.0 L1271.4,1337.6 L1271.8,1332.9 L1272.3,1335.3 L1272.8,1330.9 L1273.2,1333.9 L1273.7,1329.8 L1274.1,1335.9 L1274.5,1336.9 L1274.9,1341.9 L1275.0,1340.3 L1275.5,1339.6 L1275.9,1334.7 L1276.3,1335.1 L1276.8,1334.5 L1277.2,1336.6 L1277.7,1327.8 L1278.2,1338.5 L1278.6,1329.0 L1279.0,1333.0 L1279.5,1335.0 L1280.0,1332.8 L1280.4,1341.2 L1280.8,1334.1 L1281.3,1340.5 L1281.8,1338.8 L1282.2,1332.1 L1282.3,1335.6 L1282.7,1338.8 L1283.1,1332.1 L1283.5,1333.5 L1284.0,1330.6 L1284.5,1332.7 L1284.9,1330.8 L1285.3,1332.1 L1285.8,1335.3 L1286.2,1336.5 L1286.7,1331.4 L1287.2,1331.3 L1287.6,1333.5 L1288.0,1328.8 L1288.5,1325.6 L1289.0,1333.4 L1289.4,1325.5 L1289.8,1332.1 L1290.3,1324.7 L1290.8,1334.7 L1291.0,1324.0 L1291.2,1330.7 L1291.7,1332.5 L1292.1,1323.0 L1292.5,1331.3 L1293.0,1322.4 L1293.5,1318.6 L1293.9,1326.8 L1294.3,1326.2 L1294.8,1322.5 L1295.2,1314.7 L1295.7,1321.9 L1296.2,1320.5 L1296.6,1319.7 L1297.0,1319.5 L1297.2,1314.3 L1297.5,1317.7 L1298.0,1324.6 L1298.4,1322.7 L1298.8,1315.5 L1299.3,1313.3 L1299.8,1315.9 L1300.2,1317.0 L1300.7,1314.9 L1301.1,1308.0 L1301.5,1311.1 L1302.0,1310.1 L1302.2,1313.6 L1302.5,1311.6 L1302.9,1307.2 L1303.3,1306.9 L1303.8,1300.0 L1304.2,1303.1 L1304.7,1295.4 L1305.2,1295.3 L1305.6,1294.4 L1305.9,1288.1 L1306.0,1286.8 L1306.5,1278.3 L1307.0,1277.2 L1307.4,1270.8 L1307.8,1264.9 L1307.8,1265.6 L1308.3,1248.0 L1308.8,1241.0 L1309.0,1234.8 L1309.2,1229.3 L1309.7,1220.6 L1310.1,1211.5 L1310.3,1202.7 L1310.5,1193.7 L1310.9,1182.8 L1311.0,1185.1 L1311.5,1191.1 L1311.7,1191.5 L1311.9,1197.8 L1312.3,1201.0 L1312.8,1211.2 L1313.2,1216.1 L1313.7,1221.8 L1314.2,1230.8 L1314.6,1231.6 L1315.0,1237.3 L1315.3,1241.8 L1315.5,1246.1 L1316.0,1249.1 L1316.4,1260.4 L1316.8,1265.8 L1317.1,1273.4 L1317.3,1280.2 L1317.8,1288.2 L1318.1,1296.4 L1318.2,1299.3 L1318.7,1301.2 L1319.0,1317.9 L1319.1,1317.6 L1319.5,1318.1 L1320.0,1318.1 L1320.5,1318.7 L1320.9,1322.4 L1321.3,1329.1 L1321.8,1326.2 L1322.1,1332.8 L1322.2,1319.5 L1322.7,1326.7 L1323.2,1329.9 L1323.6,1329.2 L1324.0,1323.5 L1324.5,1327.7 L1325.0,1335.4 L1325.4,1326.2 L1325.8,1327.8 L1326.3,1327.8 L1326.8,1330.3 L1327.2,1335.4 L1327.7,1335.7 L1328.1,1325.8 L1328.3,1339.7 L1328.5,1331.8 L1329.0,1332.0 L1329.5,1341.1 L1329.9,1334.3 L1330.3,1329.9 L1330.8,1332.5 L1331.2,1332.3 L1331.7,1331.3 L1332.2,1334.2 L1332.6,1339.2 L1333.0,1337.3 L1333.5,1330.5 L1334.0,1345.5 L1334.4,1332.5 L1334.5,1337.0 L1334.8,1336.4 L1335.3,1339.0 L1335.8,1334.3 L1336.2,1337.1 L1336.7,1343.3 L1337.1,1335.0 L1337.5,1330.0 L1338.0,1335.2 L1338.5,1330.4 L1338.9,1331.8 L1339.3,1333.6 L1339.5,1334.1 L1339.8,1331.7 L1340.2,1336.2 L1340.7,1332.2 L1341.2,1328.0 L1341.6,1336.6 L1342.0,1331.8 L1342.5,1338.0 L1343.0,1330.8 L1343.4,1335.7 L1343.8,1334.7 L1344.3,1324.6 L1344.8,1327.8 L1345.2,1329.3 L1345.7,1339.3 L1346.1,1326.4 L1346.5,1337.5 L1347.0,1338.3 L1347.5,1336.9 L1347.9,1338.5 L1348.3,1334.7 L1348.8,1337.6 L1349.2,1339.5 L1349.7,1341.3 L1350.2,1343.4 L1350.6,1340.5 L1351.0,1339.3 L1351.5,1340.8 L1351.9,1345.8 L1352.0,1336.9 L1352.4,1339.6 L1352.8,1344.3 L1353.3,1344.7 L1353.8,1346.9 L1354.2,1338.7 L1354.7,1348.6 L1355.1,1350.0 L1355.5,1355.8 L1356.0,1343.8 L1356.5,1352.7 L1356.9,1357.5 L1357.3,1357.6 L1357.8,1361.1 L1358.2,1360.5 L1358.7,1350.4 L1359.2,1358.6 L1359.6,1354.0 L1360.0,1351.8 L1360.5,1363.2 L1361.0,1352.8 L1361.4,1351.8 L1361.8,1354.0 L1362.3,1351.9 L1362.8,1361.0 L1363.2,1358.1 L1363.7,1363.1 L1364.1,1358.3 L1364.4,1353.4 L1364.5,1361.6 L1365.0,1353.6 L1365.5,1354.8 L1365.9,1356.5 L1366.3,1357.8 L1366.8,1363.8 L1367.2,1355.2 L1367.7,1360.2 L1368.2,1358.6 L1368.6,1352.8 L1369.0,1353.9 L1369.5,1358.5 L1370.0,1361.9 L1370.4,1361.8 L1370.8,1362.8 L1371.3,1361.0 L1371.8,1358.7 L1372.2,1363.4 L1372.7,1356.5 L1373.1,1355.0 L1373.5,1360.4 L1374.0,1355.1 L1374.3,1360.0 L1374.5,1358.8 L1374.9,1359.8 L1375.3,1362.5 L1375.8,1358.7 L1376.2,1360.6 L1376.7,1354.1 L1377.2,1363.6 L1377.6,1358.4 L1378.0,1365.1 L1378.5,1351.3 L1379.0,1359.0 L1379.4,1364.4 L1379.8,1351.4 L1380.3,1361.4 L1380.8,1363.8 L1381.2,1363.9 L1381.7,1355.7 L1382.1,1364.6 L1382.5,1364.2 L1383.0,1358.5 L1383.5,1367.4 L1383.9,1363.4 L1384.3,1363.7 L1384.8,1361.4 L1385.2,1366.6 L1385.7,1364.3 L1386.2,1369.7 L1386.6,1366.2 L1386.7,1360.7 L1387.0,1362.7 L1387.5,1368.7 L1388.0,1362.0 L1388.4,1365.9 L1388.8,1366.6 L1389.3,1363.0 L1389.8,1352.1 L1390.2,1364.6 L1390.7,1365.0 L1391.1,1364.6 L1391.5,1360.0 L1392.0,1370.2 L1392.5,1363.2 L1392.9,1360.7 L1393.3,1360.2 L1393.8,1365.8 L1394.2,1358.2 L1394.7,1358.7 L1395.2,1374.3 L1395.6,1370.7 L1396.0,1369.4 L1396.5,1371.0 L1397.0,1367.0 L1397.4,1355.2 L1397.8,1370.1 L1398.3,1370.3 L1398.8,1366.4 L1399.2,1353.7 L1399.7,1370.4 L1400.1,1371.1 L1400.5,1361.5 L1401.0,1364.7 L1401.5,1368.2 L1401.9,1363.7 L1402.3,1369.9 L1402.8,1364.7 L1403.2,1367.9 L1403.7,1364.8 L1404.2,1356.7 L1404.6,1359.2 L1405.0,1376.3 L1405.5,1366.0 L1406.0,1371.4 L1406.4,1370.5 L1406.8,1373.6 L1407.3,1367.6 L1407.8,1361.6 L1408.2,1364.9 L1408.7,1354.8 L1409.1,1363.9 L1409.5,1369.6 L1410.0,1353.6 L1410.5,1366.0 L1410.9,1369.4 L1411.3,1372.0 L1411.6,1360.2 L1411.8,1361.6 L1412.2,1355.1 L1412.7,1359.5 L1413.2,1367.6 L1413.6,1375.5 L1414.0,1358.6 L1414.5,1371.7 L1415.0,1366.7 L1415.4,1361.7 L1415.8,1375.7 L1416.3,1352.3 L1416.8,1363.7 L1417.2,1365.1 L1417.7,1375.0 L1418.1,1373.1 L1418.5,1375.5 L1419.0,1364.3 L1419.5,1368.6 L1419.9,1370.5 L1420.3,1366.0 L1420.8,1365.1 L1421.2,1362.2 L1421.7,1360.9 L1422.2,1356.6 L1422.6,1373.0 L1423.0,1360.5 L1423.5,1351.9 L1424.0,1364.0 L1424.0,1362.4 L1424.4,1363.5 L1424.8,1371.9 L1425.3,1362.0 L1425.8,1361.2 L1426.2,1358.7 L1426.7,1362.4 L1427.1,1360.2 L1427.5,1363.5 L1428.0,1374.2 L1428.5,1364.5 L1428.9,1358.0 L1429.3,1372.4 L1429.8,1366.9 L1430.2,1366.6 L1430.7,1366.1 L1431.2,1366.6 L1431.6,1365.8 L1432.0,1369.6 L1432.5,1367.5 L1433.0,1369.3 L1433.4,1359.7 L1433.8,1362.3 L1434.3,1358.5 L1434.8,1367.2 L1435.2,1366.5 L1435.7,1359.8 L1436.1,1365.2 L1436.5,1373.9 L1436.5,1368.6 L1437.0,1356.3 L1437.5,1361.4 L1437.9,1365.0 L1438.3,1361.4 L1438.8,1363.4 L1439.2,1367.3 L1439.7,1362.8 L1440.2,1355.3 L1440.6,1364.4 L1441.0,1360.1 L1441.5,1361.0 L1442.0,1357.4 L1442.4,1353.1 L1442.8,1353.7 L1443.3,1358.1 L1443.8,1354.3 L1444.2,1348.1 L1444.7,1365.2 L1445.1,1353.4 L1445.5,1355.4 L1446.0,1361.6 L1446.5,1347.4 L1446.9,1365.3 L1447.3,1354.6 L1447.8,1361.6 L1448.2,1355.7 L1448.6,1359.5 L1448.7,1358.5 L1449.2,1357.7 L1449.6,1348.4 L1450.0,1350.0 L1450.5,1356.9 L1451.0,1363.8 L1451.4,1353.9 L1451.8,1359.0 L1452.3,1357.0 L1452.8,1358.3 L1453.2,1360.6 L1453.7,1348.2 L1454.1,1356.6 L1454.5,1354.2 L1455.0,1353.3 L1455.5,1350.5 L1455.9,1350.6 L1456.3,1349.2 L1456.8,1348.6 L1457.2,1364.6 L1457.7,1361.6 L1458.2,1353.3 L1458.6,1356.6 L1459.0,1348.2 L1459.5,1341.8 L1460.0,1343.7 L1460.4,1352.8 L1460.8,1358.7 L1461.1,1351.6 L1461.3,1347.0 L1461.8,1350.4 L1462.2,1346.7 L1462.7,1344.6 L1463.1,1349.9 L1463.5,1348.9 L1464.0,1346.8 L1464.5,1346.3 L1464.9,1345.9 L1465.3,1351.2 L1465.8,1356.4 L1466.2,1348.7 L1466.7,1359.9 L1467.2,1341.9 L1467.6,1350.4 L1468.0,1343.7 L1468.5,1348.1 L1469.0,1349.1 L1469.4,1351.0 L1469.8,1353.5 L1470.3,1345.5 L1470.8,1342.2 L1471.2,1346.9 L1471.7,1348.9 L1472.1,1344.2 L1472.5,1351.2 L1473.0,1354.6 L1473.5,1340.4 L1473.5,1348.4 L1473.9,1351.0 L1474.3,1337.4 L1474.8,1346.5 L1475.2,1344.1 L1475.7,1338.4 L1476.2,1350.1 L1476.6,1344.8 L1477.0,1341.4 L1477.0,1345.4 L1477.5,1346.0 L1478.0,1346.3 L1478.4,1345.1 L1478.8,1344.1 L1479.3,1337.0 L1479.7,1340.0 L1479.8,1342.4 L1480.2,1332.4 L1480.7,1351.7 L1481.1,1341.1 L1481.5,1338.4 L1482.0,1335.4 L1482.5,1344.7 L1482.9,1344.1 L1483.0,1341.4 L1483.3,1342.5 L1483.8,1340.8 L1484.2,1341.9 L1484.7,1345.2 L1485.2,1343.2 L1485.6,1349.6 L1485.9,1346.2 L1486.0,1347.5 L1486.5,1349.2 L1487.0,1353.5 L1487.4,1350.8 L1487.8,1349.5 L1488.3,1348.1 L1488.8,1345.5 L1489.2,1348.0 L1489.7,1353.2 L1490.1,1351.4 L1490.5,1348.9 L1491.0,1344.9 L1491.5,1344.3 L1491.9,1353.4 L1492.3,1357.2 L1492.8,1354.5 L1493.2,1346.5 L1493.7,1352.4 L1494.2,1354.9 L1494.6,1349.8 L1495.0,1355.7 L1495.5,1352.9 L1496.0,1349.7 L1496.4,1347.6 L1496.8,1357.3 L1497.3,1354.9 L1497.8,1348.8 L1498.2,1348.0 L1498.7,1356.9 L1499.1,1355.4 L1499.5,1350.9 L1500.0,1359.8 L1500.5,1350.7 L1500.9,1346.9 L1501.3,1356.9 L1501.8,1350.6 L1502.2,1353.0 L1502.7,1351.4 L1503.2,1346.3 L1503.6,1345.3 L1504.0,1349.8 L1504.5,1357.1 L1504.6,1345.8 L1505.0,1356.7 L1505.4,1351.3 L1505.8,1344.9 L1506.3,1351.2 L1506.8,1352.5 L1507.2,1345.5 L1507.7,1339.7 L1508.1,1351.1 L1508.5,1344.2 L1509.0,1351.2 L1509.5,1340.2 L1509.9,1348.3 L1510.3,1345.1 L1510.8,1341.8 L1511.2,1347.4 L1511.7,1349.2 L1512.2,1345.7 L1512.6,1342.7 L1513.0,1348.9 L1513.5,1339.9 L1514.0,1350.1 L1514.4,1349.8 L1514.8,1355.1 L1515.3,1351.3 L1515.8,1348.8 L1516.2,1348.2 L1516.7,1347.0 L1517.0,1340.8 L1517.1,1353.2 L1517.5,1348.3 L1518.0,1343.9 L1518.5,1339.4 L1518.9,1350.2 L1519.3,1345.3 L1519.8,1337.2 L1520.2,1344.4 L1520.7,1348.9 L1521.2,1340.0 L1521.6,1341.1 L1522.0,1336.9 L1522.5,1335.3 L1523.0,1341.6 L1523.2,1346.1 L1523.4,1336.7 L1523.8,1334.4 L1524.3,1336.7 L1524.8,1331.0 L1525.2,1333.6 L1525.7,1332.6 L1526.1,1324.4 L1526.5,1322.9 L1527.0,1325.2 L1527.5,1327.1 L1527.9,1323.8 L1528.2,1326.2 L1528.3,1316.3 L1528.8,1320.1 L1529.2,1313.9 L1529.7,1313.7 L1530.2,1311.8 L1530.6,1305.2 L1531.0,1305.0 L1531.5,1299.7 L1531.9,1301.6 L1532.0,1297.7 L1532.4,1293.0 L1532.8,1289.1 L1533.2,1282.3 L1533.3,1286.2 L1533.8,1278.3 L1534.2,1278.6 L1534.7,1277.2 L1535.1,1273.9 L1535.5,1276.0 L1536.0,1274.4 L1536.5,1279.9 L1536.9,1284.4 L1537.0,1290.6 L1537.3,1289.6 L1537.8,1301.1 L1538.1,1302.1 L1538.2,1297.7 L1538.7,1296.7 L1539.2,1307.3 L1539.6,1301.1 L1540.0,1311.3 L1540.5,1314.3 L1541.0,1314.2 L1541.4,1314.2 L1541.8,1316.0 L1541.9,1317.9 L1542.3,1317.2 L1542.8,1317.8 L1543.2,1319.7 L1543.7,1326.4 L1544.1,1321.5 L1544.5,1326.4 L1545.0,1322.2 L1545.5,1325.1 L1545.9,1324.0 L1546.3,1329.8 L1546.8,1334.6 L1547.2,1333.7 L1547.7,1331.2 L1548.2,1336.1 L1548.6,1332.9 L1549.0,1336.4 L1549.5,1336.6 L1550.0,1338.3 L1550.4,1327.4 L1550.8,1331.9 L1551.3,1341.0 L1551.8,1338.0 L1552.2,1348.4 L1552.7,1338.6 L1553.1,1337.9 L1553.5,1347.2 L1554.0,1343.8 L1554.3,1349.9 L1554.5,1344.0 L1554.9,1341.2 L1555.3,1345.3 L1555.8,1339.0 L1556.2,1340.7 L1556.7,1340.4 L1557.2,1342.0 L1557.6,1346.5 L1558.0,1341.2 L1558.5,1344.9 L1559.0,1341.5 L1559.4,1347.7 L1559.8,1334.1 L1560.3,1343.3 L1560.8,1345.1 L1561.2,1339.8 L1561.7,1349.2 L1562.1,1345.9 L1562.5,1350.8 L1563.0,1349.6 L1563.5,1348.3 L1563.9,1345.0 L1564.3,1341.0 L1564.8,1345.1 L1565.2,1344.2 L1565.7,1347.5 L1566.2,1344.5 L1566.6,1357.0 L1566.7,1339.6 L1567.0,1352.3 L1567.5,1345.2 L1568.0,1346.5 L1568.4,1352.1 L1568.8,1348.2 L1569.3,1343.0 L1569.8,1350.7 L1570.2,1348.2 L1570.7,1340.0 L1571.1,1350.6 L1571.5,1345.1 L1572.0,1346.9 L1572.5,1352.8 L1572.9,1352.3 L1573.3,1349.8 L1573.8,1361.6 L1574.2,1353.8 L1574.7,1349.2 L1575.2,1353.5 L1575.6,1352.1 L1576.0,1342.5 L1576.5,1345.8 L1577.0,1347.0 L1577.4,1363.7 L1577.8,1353.3 L1577.9,1352.9 L1578.3,1351.5 L1578.8,1359.0 L1579.2,1354.5 L1579.7,1362.6 L1580.1,1358.2 L1580.5,1362.4 L1581.0,1354.0 L1581.5,1356.4 L1581.9,1352.5 L1582.3,1353.9 L1582.8,1346.4 L1583.2,1352.0 L1583.7,1350.2 L1584.2,1351.7 L1584.6,1360.8 L1585.0,1356.2 L1585.5,1360.9 L1586.0,1359.2 L1586.4,1359.5 L1586.8,1360.0 L1587.3,1352.3 L1587.8,1359.1 L1588.2,1353.7 L1588.7,1352.8 L1589.1,1361.1 L1589.5,1365.9 L1590.0,1350.7 L1590.3,1363.9 L1590.5,1359.4 L1590.9,1351.0 L1591.3,1356.1 L1591.8,1356.3 L1592.2,1356.0 L1592.7,1352.2 L1593.2,1347.5 L1593.6,1353.4 L1594.0,1357.1 L1594.5,1356.4 L1595.0,1355.5 L1595.4,1357.3 L1595.8,1347.2 L1596.3,1351.3 L1596.8,1352.8 L1597.2,1355.5 L1597.7,1351.3 L1597.8,1352.9 L1598.1,1350.9 L1598.5,1359.7 L1599.0,1339.8 L1599.5,1349.4 L1599.9,1359.7 L1600.3,1350.1 L1600.8,1340.4 L1601.2,1349.1 L1601.7,1341.8 L1602.2,1344.9 L1602.6,1348.8 L1603.0,1355.2 L1603.5,1349.3 L1604.0,1350.0 L1604.4,1351.3 L1604.8,1347.3 L1605.3,1342.4 L1605.8,1345.5 L1606.2,1347.2 L1606.5,1344.3 L1606.7,1342.5 L1607.1,1343.6 L1607.5,1338.4 L1608.0,1340.3 L1608.5,1344.1 L1608.9,1342.7 L1609.3,1344.3 L1609.8,1350.0 L1610.2,1345.0 L1610.7,1343.3 L1611.2,1338.1 L1611.6,1338.4 L1612.0,1344.4 L1612.5,1338.8 L1613.0,1344.2 L1613.4,1337.5 L1613.8,1342.5 L1614.3,1341.4 L1614.8,1345.7 L1615.2,1339.6 L1615.7,1339.4 L1616.1,1341.8 L1616.5,1340.8" fill="none" stroke="#000" stroke-width="7" stroke-linejoin="round" stroke-linecap="butt" shape-rendering="crispEdges"/>
<text transform="translate(1220.5,836) scale(1,1.02)" font-family="'Liberation Sans', Arial, Helvetica, sans-serif" font-size="67.6" fill="#000" stroke="#000" stroke-width="0.8">Ti25Nb10Zr</text>
<g id="alpha">
<rect x="457" y="1735" width="8" height="418" fill="#0000ff" shape-rendering="crispEdges"/>
<rect x="516" y="1721" width="8" height="432" fill="#0000ff" shape-rendering="crispEdges"/>
<rect x="547" y="1628" width="8" height="525" fill="#0000ff" shape-rendering="crispEdges"/>
<rect x="776" y="1785" width="8" height="368" fill="#0000ff" shape-rendering="crispEdges"/>
<rect x="954" y="1798" width="8" height="355" fill="#0000ff" shape-rendering="crispEdges"/>
<rect x="1092" y="1798" width="8" height="355" fill="#0000ff" shape-rendering="crispEdges"/>
<rect x="1154" y="1982" width="8" height="171" fill="#0000ff" shape-rendering="crispEdges"/>
<rect x="1191" y="1813" width="8" height="340" fill="#0000ff" shape-rendering="crispEdges"/>
<rect x="1211" y="1845" width="8" height="308" fill="#0000ff" shape-rendering="crispEdges"/>
<rect x="1299" y="1982" width="8" height="171" fill="#0000ff" shape-rendering="crispEdges"/>
<rect x="1379" y="1982" width="8" height="171" fill="#0000ff" shape-rendering="crispEdges"/>
<rect x="1486" y="1982" width="8" height="171" fill="#0000ff" shape-rendering="crispEdges"/>
<rect x="430" y="1703" width="61" height="63" fill="#0000ff" shape-rendering="crispEdges"/><rect x="434" y="1708" width="53" height="54" fill="#fff" shape-rendering="crispEdges"/>
<text transform="translate(461.2,1755.0) scale(1.08,1)" font-family="'Liberation Serif', 'Times New Roman', serif" font-size="55" fill="#0000ff" text-anchor="middle">α</text>
<rect x="490" y="1689" width="61" height="63" fill="#0000ff" shape-rendering="crispEdges"/><rect x="494" y="1694" width="53" height="54" fill="#fff" shape-rendering="crispEdges"/>
<text transform="translate(520.6,1741.0) scale(1.08,1)" font-family="'Liberation Serif', 'Times New Roman', serif" font-size="55" fill="#0000ff" text-anchor="middle">α</text>
<rect x="521" y="1596" width="61" height="63" fill="#0000ff" shape-rendering="crispEdges"/><rect x="525" y="1601" width="53" height="54" fill="#fff" shape-rendering="crispEdges"/>
<text transform="translate(551.9,1648.4) scale(1.08,1)" font-family="'Liberation Serif', 'Times New Roman', serif" font-size="55" fill="#0000ff" text-anchor="middle">α</text>
<rect x="750" y="1753" width="61" height="63" fill="#0000ff" shape-rendering="crispEdges"/><rect x="754" y="1758" width="53" height="54" fill="#fff" shape-rendering="crispEdges"/>
<text transform="translate(780.9,1805.3) scale(1.08,1)" font-family="'Liberation Serif', 'Times New Roman', serif" font-size="55" fill="#0000ff" text-anchor="middle">α</text>
<rect x="927" y="1766" width="61" height="63" fill="#0000ff" shape-rendering="crispEdges"/><rect x="931" y="1771" width="53" height="54" fill="#fff" shape-rendering="crispEdges"/>
<text transform="translate(958.6,1818.2) scale(1.08,1)" font-family="'Liberation Serif', 'Times New Roman', serif" font-size="55" fill="#0000ff" text-anchor="middle">α</text>
<rect x="1065" y="1766" width="61" height="63" fill="#0000ff" shape-rendering="crispEdges"/><rect x="1069" y="1771" width="53" height="54" fill="#fff" shape-rendering="crispEdges"/>
<text transform="translate(1096.2,1818.2) scale(1.08,1)" font-family="'Liberation Serif', 'Times New Roman', serif" font-size="55" fill="#0000ff" text-anchor="middle">α</text>
<rect x="1128" y="1951" width="61" height="63" fill="#0000ff" shape-rendering="crispEdges"/><rect x="1132" y="1956" width="53" height="54" fill="#fff" shape-rendering="crispEdges"/>
<text transform="translate(1158.7,2002.6) scale(1.08,1)" font-family="'Liberation Serif', 'Times New Roman', serif" font-size="55" fill="#0000ff" text-anchor="middle">α</text>
<rect x="1164" y="1782" width="61" height="63" fill="#0000ff" shape-rendering="crispEdges"/><rect x="1168" y="1787" width="53" height="54" fill="#fff" shape-rendering="crispEdges"/>
<text transform="translate(1195.5,1833.6) scale(1.08,1)" font-family="'Liberation Serif', 'Times New Roman', serif" font-size="55" fill="#0000ff" text-anchor="middle">α</text>
<rect x="1185" y="1813" width="61" height="63" fill="#0000ff" shape-rendering="crispEdges"/><rect x="1189" y="1818" width="53" height="54" fill="#fff" shape-rendering="crispEdges"/>
<text transform="translate(1216.0,1864.8) scale(1.08,1)" font-family="'Liberation Serif', 'Times New Roman', serif" font-size="55" fill="#0000ff" text-anchor="middle">α</text>
<rect x="1273" y="1951" width="61" height="63" fill="#0000ff" shape-rendering="crispEdges"/><rect x="1277" y="1956" width="53" height="54" fill="#fff" shape-rendering="crispEdges"/>
<text transform="translate(1303.8,2002.6) scale(1.08,1)" font-family="'Liberation Serif', 'Times New Roman', serif" font-size="55" fill="#0000ff" text-anchor="middle">α</text>
<rect x="1353" y="1951" width="61" height="63" fill="#0000ff" shape-rendering="crispEdges"/><rect x="1357" y="1956" width="53" height="54" fill="#fff" shape-rendering="crispEdges"/>
<text transform="translate(1383.6,2002.6) scale(1.08,1)" font-family="'Liberation Serif', 'Times New Roman', serif" font-size="55" fill="#0000ff" text-anchor="middle">α</text>
<rect x="1459" y="1951" width="61" height="63" fill="#0000ff" shape-rendering="crispEdges"/><rect x="1463" y="1956" width="53" height="54" fill="#fff" shape-rendering="crispEdges"/>
<text transform="translate(1490.2,2002.6) scale(1.08,1)" font-family="'Liberation Serif', 'Times New Roman', serif" font-size="55" fill="#0000ff" text-anchor="middle">α</text>
<text transform="translate(479.9,1694.8) rotate(-90) scale(1,1.05)" font-family="'Liberation Sans', Arial, Helvetica, sans-serif" font-size="60" fill="#0000ff" stroke="#0000ff" stroke-width="0.8">(100)</text>
<text transform="translate(539.3,1680.8) rotate(-90) scale(1,1.05)" font-family="'Liberation Sans', Arial, Helvetica, sans-serif" font-size="60" fill="#0000ff" stroke="#0000ff" stroke-width="0.8">(002)</text>
<text transform="translate(570.6,1588.2) rotate(-90) scale(1,1.05)" font-family="'Liberation Sans', Arial, Helvetica, sans-serif" font-size="60" fill="#0000ff" stroke="#0000ff" stroke-width="0.8">(101)</text>
<text transform="translate(799.6,1745.1) rotate(-90) scale(1,1.05)" font-family="'Liberation Sans', Arial, Helvetica, sans-serif" font-size="60" fill="#0000ff" stroke="#0000ff" stroke-width="0.8">(102)</text>
<text transform="translate(977.3,1758.0) rotate(-90) scale(1,1.05)" font-family="'Liberation Sans', Arial, Helvetica, sans-serif" font-size="60" fill="#0000ff" stroke="#0000ff" stroke-width="0.8">(110)</text>
<text transform="translate(1114.9,1758.0) rotate(-90) scale(1,1.05)" font-family="'Liberation Sans', Arial, Helvetica, sans-serif" font-size="60" fill="#0000ff" stroke="#0000ff" stroke-width="0.8">(103)</text>
<text transform="translate(1177.4,1942.4) rotate(-90) scale(1,1.05)" font-family="'Liberation Sans', Arial, Helvetica, sans-serif" font-size="60" fill="#0000ff" stroke="#0000ff" stroke-width="0.8">(200)</text>
<text transform="translate(1214.2,1773.4) rotate(-90) scale(1,1.05)" font-family="'Liberation Sans', Arial, Helvetica, sans-serif" font-size="60" fill="#0000ff" stroke="#0000ff" stroke-width="0.8">(112)</text>
<text transform="translate(1234.7,1804.6) rotate(-90) scale(1,1.05)" font-family="'Liberation Sans', Arial, Helvetica, sans-serif" font-size="60" fill="#0000ff" stroke="#0000ff" stroke-width="0.8">(201)</text>
<text transform="translate(1322.5,1942.4) rotate(-90) scale(1,1.05)" font-family="'Liberation Sans', Arial, Helvetica, sans-serif" font-size="60" fill="#0000ff" stroke="#0000ff" stroke-width="0.8">(004)</text>
<text transform="translate(1402.3,1942.4) rotate(-90) scale(1,1.05)" font-family="'Liberation Sans', Arial, Helvetica, sans-serif" font-size="60" fill="#0000ff" stroke="#0000ff" stroke-width="0.8">(202)</text>
<text transform="translate(1508.9,1942.4) rotate(-90) scale(1,1.05)" font-family="'Liberation Sans', Arial, Helvetica, sans-serif" font-size="60" fill="#0000ff" stroke="#0000ff" stroke-width="0.8">(104)</text>
<rect x="984" y="1476" width="61" height="63" fill="#0000ff" shape-rendering="crispEdges"/><rect x="988" y="1481" width="53" height="54" fill="#fff" shape-rendering="crispEdges"/>
<text transform="translate(1015.1,1528.4) scale(1.08,1)" font-family="'Liberation Serif', 'Times New Roman', serif" font-size="55" fill="#0000ff" text-anchor="middle">α</text>
<text transform="translate(1109,1531.6) scale(1,1.02)" font-family="'Liberation Sans', Arial, Helvetica, sans-serif" font-size="67" fill="#0000ff" stroke="#0000ff" stroke-width="0.8" style="white-space:pre">JCPDS 44-1294</text>
</g>
</svg>
</body>
</html>
